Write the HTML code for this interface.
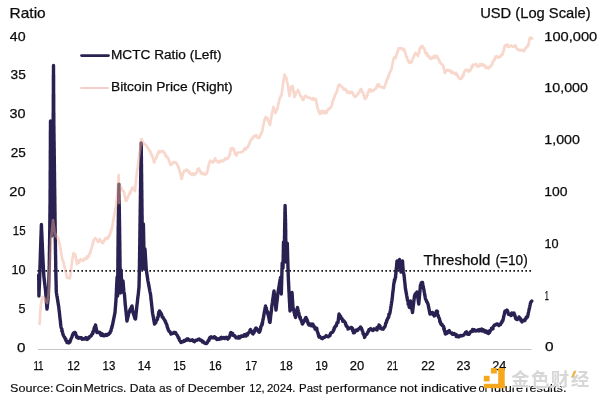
<!DOCTYPE html>
<html><head><meta charset="utf-8"><title>MCTC Ratio</title>
<style>
html,body{margin:0;padding:0;background:#fff;}
body{width:600px;height:400px;overflow:hidden;position:relative;}
svg{position:absolute;left:0;top:0;display:block;}
text{font-family:"Liberation Sans","Noto Sans CJK SC",sans-serif;fill:#0c0c0c;stroke:#0c0c0c;stroke-width:0.25px;}
.wm{font-family:"Liberation Sans","Noto Sans CJK SC",sans-serif;font-weight:bold;}
</style></head><body>
<svg width="600" height="400" viewBox="0 0 600 400">
<rect width="600" height="400" fill="#fff"/>
<line x1="38" y1="349.5" x2="531.5" y2="349.5" stroke="#c6c6c6" stroke-width="1.1"/>
<line x1="37.4" y1="270.9" x2="531.5" y2="270.9" stroke="#111" stroke-width="1.8" stroke-dasharray="1.6 2.4"/>
<polyline fill="none" stroke="#292151" stroke-width="3.4" stroke-linejoin="round" stroke-linecap="round" points="38.7,275.0 38.7,275.8 38.7,276.6 38.7,277.4 38.7,278.2 38.7,279.0 38.7,279.8 38.8,280.7 38.8,281.5 38.8,282.3 38.8,283.1 38.8,283.9 38.8,284.7 38.8,285.5 38.8,286.3 38.8,287.1 38.8,287.9 38.8,288.7 38.8,289.5 38.8,290.3 38.9,291.2 38.9,292.0 38.9,292.8 38.9,293.6 38.9,294.4 38.9,295.2 38.9,296.0 38.9,295.2 39.0,294.4 39.0,293.6 39.0,292.8 39.1,292.0 39.1,291.2 39.1,290.4 39.2,289.6 39.2,288.8 39.2,288.0 39.3,287.2 39.3,286.4 39.4,285.6 39.4,284.8 39.4,284.0 39.5,283.2 39.5,282.4 39.5,281.6 39.6,280.8 39.6,280.0 39.6,279.2 39.6,278.4 39.7,277.6 39.7,276.8 39.7,275.9 39.7,275.1 39.8,274.3 39.8,273.5 39.8,272.7 39.8,271.9 39.9,271.1 39.9,270.3 39.9,269.5 39.9,268.6 40.0,267.8 40.0,267.0 40.0,266.2 40.0,265.4 40.1,264.6 40.1,263.8 40.1,263.0 40.1,262.2 40.2,261.4 40.2,260.5 40.2,259.7 40.2,258.9 40.3,258.1 40.3,257.3 40.3,256.5 40.3,255.7 40.4,254.9 40.4,254.1 40.4,253.2 40.4,252.4 40.5,251.6 40.5,250.8 40.5,250.0 40.5,249.2 40.6,248.4 40.6,247.5 40.6,246.7 40.6,245.9 40.7,245.1 40.7,244.2 40.7,243.4 40.8,242.6 40.8,241.8 40.8,241.0 40.8,240.1 40.9,239.3 40.9,238.5 40.9,237.7 41.0,236.8 41.0,236.0 41.0,235.2 41.1,234.4 41.1,233.5 41.1,232.7 41.1,231.9 41.2,231.1 41.2,230.3 41.2,229.4 41.3,228.6 41.3,227.8 41.3,227.0 41.3,226.1 41.4,225.3 41.4,224.5 41.4,225.3 41.5,226.1 41.5,227.0 41.5,227.8 41.6,228.6 41.6,229.4 41.6,230.3 41.7,231.1 41.7,231.9 41.8,232.7 41.8,233.5 41.8,234.4 41.9,235.2 41.9,236.0 41.9,236.8 42.0,237.7 42.0,238.5 42.0,239.3 42.1,240.1 42.1,241.0 42.1,241.8 42.2,242.6 42.2,243.4 42.3,244.2 42.3,245.1 42.3,245.9 42.4,246.7 42.4,247.5 42.4,248.4 42.5,249.2 42.5,250.0 42.5,250.8 42.6,251.6 42.6,252.4 42.7,253.2 42.7,254.0 42.7,254.8 42.8,255.6 42.8,256.5 42.9,257.3 42.9,258.1 42.9,258.9 43.0,259.7 43.0,260.5 43.1,261.3 43.1,262.1 43.1,262.9 43.2,263.7 43.2,264.5 43.3,265.3 43.3,266.1 43.3,266.9 43.4,267.7 43.4,268.5 43.5,269.4 43.5,270.2 43.5,271.0 43.6,271.8 43.6,272.6 43.7,273.4 43.7,274.2 43.8,275.0 43.8,275.8 43.9,276.7 44.0,277.5 44.1,278.3 44.2,279.2 44.3,280.0 44.4,280.8 44.5,281.7 44.6,282.5 44.7,283.3 44.8,284.2 44.9,285.0 45.0,285.8 45.1,286.7 45.2,287.5 45.3,288.3 45.4,289.2 45.5,290.0 45.6,290.8 45.6,291.7 45.7,292.5 45.8,293.3 45.8,294.1 45.9,295.0 46.0,295.8 46.0,296.6 46.1,297.4 46.2,298.3 46.2,299.1 46.3,299.9 46.3,300.7 46.4,301.6 46.5,302.4 46.5,303.2 46.6,304.0 46.7,304.9 46.7,305.7 46.8,306.5 46.9,307.3 46.9,308.2 47.0,309.0 47.1,308.2 47.2,307.4 47.3,306.6 47.3,305.8 47.4,305.0 47.5,304.2 47.6,303.4 47.7,302.6 47.8,301.8 47.9,301.0 48.0,300.2 48.0,299.4 48.1,298.6 48.2,297.8 48.3,297.0 48.3,296.2 48.4,295.4 48.4,294.5 48.4,293.7 48.4,292.9 48.5,292.1 48.5,291.3 48.5,290.5 48.5,289.6 48.6,288.8 48.6,288.0 48.6,287.2 48.7,286.4 48.7,285.5 48.7,284.7 48.7,283.9 48.8,283.1 48.8,282.3 48.8,281.5 48.8,280.6 48.9,279.8 48.9,279.0 48.9,278.2 49.0,277.4 49.0,276.5 49.0,275.7 49.0,274.9 49.1,274.1 49.1,273.3 49.1,272.5 49.1,271.6 49.2,270.8 49.2,270.0 49.2,269.2 49.2,268.4 49.2,267.6 49.2,266.7 49.3,265.9 49.3,265.1 49.3,264.3 49.3,263.5 49.3,262.7 49.3,261.9 49.3,261.0 49.3,260.2 49.4,259.4 49.4,258.6 49.4,257.8 49.4,257.0 49.4,256.2 49.4,255.3 49.4,254.5 49.4,253.7 49.4,252.9 49.5,252.1 49.5,251.3 49.5,250.5 49.5,249.7 49.5,248.8 49.5,248.0 49.5,247.2 49.5,246.4 49.5,245.6 49.6,244.8 49.6,244.0 49.6,243.1 49.6,242.3 49.6,241.5 49.6,240.7 49.6,239.9 49.6,239.1 49.7,238.3 49.7,237.4 49.7,236.6 49.7,235.8 49.7,235.0 49.7,234.2 49.7,233.4 49.7,232.6 49.7,231.7 49.7,230.9 49.8,230.1 49.8,229.3 49.8,228.5 49.8,227.7 49.8,226.9 49.8,226.0 49.8,225.2 49.8,224.4 49.8,223.6 49.8,222.8 49.8,222.0 49.9,221.2 49.9,220.3 49.9,219.5 49.9,218.7 49.9,217.9 49.9,217.1 49.9,216.3 49.9,215.5 49.9,214.7 49.9,213.8 50.0,213.0 50.0,212.2 50.0,211.4 50.0,210.6 50.0,209.8 50.0,209.0 50.0,208.1 50.0,207.3 50.0,206.5 50.0,205.7 50.0,204.9 50.1,204.1 50.1,203.3 50.1,202.4 50.1,201.6 50.1,200.8 50.1,200.0 50.1,199.2 50.1,198.4 50.1,197.6 50.1,196.8 50.1,196.0 50.1,195.2 50.1,194.4 50.1,193.6 50.1,192.7 50.1,191.9 50.1,191.1 50.1,190.3 50.2,189.5 50.2,188.7 50.2,187.9 50.2,187.1 50.2,186.3 50.2,185.5 50.2,184.7 50.2,183.9 50.2,183.1 50.2,182.3 50.2,181.5 50.2,180.7 50.2,179.8 50.2,179.0 50.2,178.2 50.2,177.4 50.2,176.6 50.2,175.8 50.2,175.0 50.2,174.2 50.2,173.4 50.2,172.6 50.2,171.8 50.2,171.0 50.3,170.2 50.3,169.4 50.3,168.6 50.3,167.8 50.3,166.9 50.3,166.1 50.3,165.3 50.3,164.5 50.3,163.7 50.3,162.9 50.3,162.1 50.3,161.3 50.3,160.5 50.3,159.7 50.3,158.9 50.3,158.1 50.3,157.3 50.3,156.5 50.3,155.7 50.3,154.9 50.3,154.1 50.3,153.2 50.3,152.4 50.3,151.6 50.3,150.8 50.4,150.0 50.4,149.2 50.4,148.4 50.4,147.6 50.4,146.8 50.4,146.0 50.4,145.2 50.4,144.4 50.4,143.6 50.4,142.8 50.4,142.0 50.4,141.2 50.4,140.3 50.4,139.5 50.4,138.7 50.4,137.9 50.4,137.1 50.4,136.3 50.4,135.5 50.4,134.7 50.4,133.9 50.4,133.1 50.4,132.3 50.4,131.5 50.5,130.7 50.5,129.9 50.5,129.1 50.5,128.3 50.5,127.4 50.5,126.6 50.5,125.8 50.5,125.0 50.5,124.2 50.5,123.4 50.5,122.6 50.5,121.8 50.5,121.0 50.5,121.8 50.5,122.6 50.5,123.4 50.5,124.2 50.5,125.0 50.5,125.8 50.5,126.7 50.6,127.5 50.6,128.3 50.6,129.1 50.6,129.9 50.6,130.7 50.6,131.5 50.6,132.3 50.6,133.1 50.6,133.9 50.6,134.7 50.6,135.5 50.6,136.4 50.6,137.2 50.6,138.0 50.7,138.8 50.7,139.6 50.7,140.4 50.7,141.2 50.7,142.0 50.7,142.8 50.7,143.6 50.7,144.4 50.7,145.2 50.7,146.1 50.7,146.9 50.7,147.7 50.7,148.5 50.7,149.3 50.7,150.1 50.8,150.9 50.8,151.7 50.8,152.5 50.8,153.3 50.8,154.1 50.8,154.9 50.8,155.8 50.8,156.6 50.8,157.4 50.8,158.2 50.8,159.0 50.8,159.8 50.8,160.6 50.8,161.4 50.8,162.2 50.9,163.0 50.9,163.8 50.9,164.6 50.9,165.5 50.9,166.3 50.9,167.1 50.9,167.9 50.9,168.7 50.9,169.5 50.9,170.3 50.9,171.1 50.9,171.9 50.9,172.7 50.9,173.5 51.0,174.3 51.0,175.2 51.0,176.0 51.0,176.8 51.0,177.6 51.0,178.4 51.0,179.2 51.0,180.0 51.0,180.8 51.0,181.6 51.0,182.4 51.0,183.2 51.0,184.0 51.1,184.8 51.1,185.6 51.1,186.4 51.1,187.2 51.1,188.0 51.1,188.8 51.1,189.6 51.1,190.4 51.1,191.2 51.1,192.0 51.2,192.8 51.2,193.6 51.2,194.4 51.2,195.2 51.2,196.0 51.2,196.8 51.2,197.6 51.2,198.4 51.2,199.2 51.2,200.0 51.3,200.8 51.3,201.6 51.3,202.4 51.3,203.2 51.3,204.0 51.3,204.8 51.3,205.6 51.3,206.4 51.3,207.2 51.4,208.0 51.4,208.8 51.4,209.6 51.4,210.4 51.4,211.2 51.4,212.0 51.4,212.8 51.4,213.6 51.4,214.4 51.4,215.2 51.5,216.0 51.5,216.8 51.5,217.6 51.5,218.4 51.5,219.2 51.5,220.0 51.5,220.8 51.5,221.6 51.5,222.4 51.5,223.2 51.6,224.0 51.6,224.8 51.6,225.6 51.6,226.4 51.6,227.2 51.6,228.0 51.6,228.8 51.6,229.6 51.6,230.4 51.6,231.2 51.7,232.0 51.7,232.8 51.7,233.6 51.7,234.4 51.7,235.2 51.7,236.0 51.7,235.2 51.7,234.4 51.7,233.6 51.7,232.8 51.8,232.0 51.8,231.2 51.8,230.4 51.8,229.6 51.8,228.8 51.8,228.0 51.8,227.2 51.8,226.4 51.8,225.6 51.8,224.8 51.9,224.0 51.9,223.2 51.9,222.4 51.9,221.6 51.9,220.8 51.9,220.0 51.9,219.2 51.9,218.4 51.9,217.6 51.9,216.8 52.0,216.0 52.0,215.2 52.0,214.4 52.0,213.6 52.0,212.8 52.0,212.0 52.0,211.2 52.0,210.4 52.0,209.6 52.0,208.8 52.0,208.0 52.1,207.2 52.1,206.4 52.1,205.6 52.1,204.8 52.1,204.0 52.1,203.2 52.1,202.4 52.1,201.6 52.1,200.8 52.1,200.0 52.2,199.2 52.2,198.4 52.2,197.6 52.2,196.8 52.2,196.0 52.2,195.2 52.2,194.4 52.2,193.6 52.2,192.8 52.2,192.0 52.3,191.2 52.3,190.4 52.3,189.6 52.3,188.8 52.3,188.0 52.3,187.2 52.3,186.4 52.3,185.6 52.3,184.8 52.4,184.0 52.4,183.2 52.4,182.4 52.4,181.6 52.4,180.8 52.4,180.0 52.4,179.2 52.4,178.4 52.4,177.6 52.4,176.8 52.5,176.0 52.5,175.2 52.5,174.4 52.5,173.6 52.5,172.8 52.5,171.9 52.5,171.1 52.5,170.3 52.5,169.5 52.6,168.7 52.6,167.9 52.6,167.1 52.6,166.3 52.6,165.5 52.6,164.7 52.6,163.9 52.6,163.1 52.6,162.3 52.7,161.5 52.7,160.7 52.7,159.9 52.7,159.1 52.7,158.2 52.7,157.4 52.7,156.6 52.7,155.8 52.7,155.0 52.8,154.2 52.8,153.4 52.8,152.6 52.8,151.8 52.8,151.0 52.8,150.2 52.8,149.4 52.8,148.6 52.8,147.8 52.9,147.0 52.9,146.2 52.9,145.4 52.9,144.6 52.9,143.8 52.9,142.9 52.9,142.1 52.9,141.3 52.9,140.5 53.0,139.7 53.0,138.9 53.0,138.1 53.0,137.3 53.0,136.5 53.0,135.7 53.0,134.9 53.0,134.1 53.0,133.3 53.1,132.5 53.1,131.7 53.1,130.9 53.1,130.1 53.1,129.2 53.1,128.4 53.1,127.6 53.1,126.8 53.1,126.0 53.2,125.2 53.2,124.4 53.2,123.6 53.2,122.8 53.2,122.0 53.2,121.2 53.2,120.4 53.2,119.6 53.2,118.8 53.2,118.0 53.2,117.2 53.2,116.3 53.2,115.5 53.2,114.7 53.2,113.9 53.2,113.1 53.3,112.3 53.3,111.5 53.3,110.7 53.3,109.9 53.3,109.1 53.3,108.3 53.3,107.5 53.3,106.7 53.3,105.9 53.3,105.0 53.3,104.2 53.3,103.4 53.3,102.6 53.3,101.8 53.3,101.0 53.3,100.2 53.3,99.4 53.3,98.6 53.3,97.8 53.3,97.0 53.3,96.2 53.3,95.4 53.3,94.6 53.4,93.8 53.4,92.9 53.4,92.1 53.4,91.3 53.4,90.5 53.4,89.7 53.4,88.9 53.4,88.1 53.4,87.3 53.4,86.5 53.4,85.7 53.4,84.9 53.4,84.1 53.4,83.3 53.4,82.5 53.4,81.6 53.4,80.8 53.4,80.0 53.4,79.2 53.4,78.4 53.4,77.6 53.4,76.8 53.4,76.0 53.4,75.2 53.5,74.4 53.5,73.6 53.5,72.8 53.5,72.0 53.5,71.2 53.5,70.3 53.5,69.5 53.5,68.7 53.5,67.9 53.5,67.1 53.5,66.3 53.5,65.5 53.5,66.3 53.5,67.1 53.5,67.9 53.5,68.7 53.5,69.5 53.5,70.3 53.5,71.2 53.5,72.0 53.5,72.8 53.5,73.6 53.5,74.4 53.6,75.2 53.6,76.0 53.6,76.8 53.6,77.6 53.6,78.4 53.6,79.2 53.6,80.0 53.6,80.8 53.6,81.6 53.6,82.5 53.6,83.3 53.6,84.1 53.6,84.9 53.6,85.7 53.6,86.5 53.6,87.3 53.6,88.1 53.6,88.9 53.6,89.7 53.6,90.5 53.6,91.3 53.6,92.1 53.6,92.9 53.6,93.8 53.7,94.6 53.7,95.4 53.7,96.2 53.7,97.0 53.7,97.8 53.7,98.6 53.7,99.4 53.7,100.2 53.7,101.0 53.7,101.8 53.7,102.6 53.7,103.4 53.7,104.2 53.7,105.0 53.7,105.9 53.7,106.7 53.7,107.5 53.7,108.3 53.7,109.1 53.7,109.9 53.7,110.7 53.7,111.5 53.7,112.3 53.8,113.1 53.8,113.9 53.8,114.7 53.8,115.5 53.8,116.3 53.8,117.2 53.8,118.0 53.8,118.8 53.8,119.6 53.8,120.4 53.8,121.2 53.8,122.0 53.8,122.8 53.8,123.6 53.8,124.4 53.8,125.2 53.9,126.0 53.9,126.9 53.9,127.7 53.9,128.5 53.9,129.3 53.9,130.1 53.9,130.9 53.9,131.7 53.9,132.5 53.9,133.3 54.0,134.1 54.0,134.9 54.0,135.7 54.0,136.6 54.0,137.4 54.0,138.2 54.0,139.0 54.0,139.8 54.0,140.6 54.1,141.4 54.1,142.2 54.1,143.0 54.1,143.8 54.1,144.6 54.1,145.4 54.1,146.3 54.1,147.1 54.1,147.9 54.2,148.7 54.2,149.5 54.2,150.3 54.2,151.1 54.2,151.9 54.2,152.7 54.2,153.5 54.2,154.3 54.2,155.1 54.2,156.0 54.3,156.8 54.3,157.6 54.3,158.4 54.3,159.2 54.3,160.0 54.3,160.8 54.3,161.6 54.3,162.4 54.3,163.2 54.3,164.0 54.4,164.8 54.4,165.6 54.4,166.4 54.4,167.2 54.4,168.0 54.4,168.8 54.4,169.6 54.4,170.4 54.4,171.2 54.4,172.0 54.5,172.8 54.5,173.6 54.5,174.4 54.5,175.2 54.5,176.0 54.5,176.8 54.5,177.6 54.5,178.4 54.5,179.2 54.5,180.0 54.6,180.8 54.6,181.6 54.6,182.4 54.6,183.2 54.6,184.0 54.6,184.8 54.6,185.6 54.6,186.4 54.6,187.2 54.6,188.0 54.7,188.8 54.7,189.6 54.7,190.4 54.7,191.2 54.7,192.0 54.7,192.8 54.7,193.6 54.7,194.4 54.7,195.2 54.8,196.0 54.8,196.8 54.8,197.6 54.8,198.4 54.8,199.2 54.8,200.0 54.8,200.8 54.8,201.6 54.8,202.4 54.8,203.2 54.8,204.0 54.9,204.8 54.9,205.6 54.9,206.4 54.9,207.2 54.9,208.0 54.9,208.8 54.9,209.6 54.9,210.4 54.9,211.2 54.9,212.0 55.0,212.8 55.0,213.6 55.0,214.4 55.0,215.2 55.0,216.0 55.0,216.8 55.0,217.6 55.0,218.4 55.0,219.2 55.0,220.0 55.1,220.8 55.1,221.6 55.1,222.4 55.1,223.2 55.1,224.0 55.1,224.8 55.1,225.6 55.1,226.4 55.1,227.2 55.1,228.0 55.2,228.8 55.2,229.6 55.2,230.4 55.2,231.2 55.2,232.0 55.2,232.8 55.2,233.6 55.2,234.4 55.2,235.2 55.2,236.0 55.3,236.8 55.3,237.6 55.3,238.4 55.3,239.2 55.3,240.0 55.3,240.8 55.3,241.6 55.3,242.4 55.4,243.2 55.4,244.1 55.4,244.9 55.4,245.7 55.4,246.5 55.4,247.3 55.4,248.1 55.4,248.9 55.5,249.7 55.5,250.5 55.5,251.4 55.5,252.2 55.5,253.0 55.5,253.8 55.5,254.6 55.6,255.4 55.6,256.2 55.6,257.0 55.6,257.8 55.6,258.6 55.6,259.5 55.6,260.3 55.7,261.1 55.7,261.9 55.7,262.7 55.7,263.5 55.7,264.3 55.7,265.1 55.7,265.9 55.7,266.8 55.8,267.6 55.8,268.4 55.8,269.2 55.8,270.0 55.8,270.8 55.8,271.6 55.9,272.4 55.9,273.3 55.9,274.1 55.9,274.9 55.9,275.7 55.9,276.5 56.0,277.3 56.0,278.1 56.0,279.0 56.0,279.8 56.0,280.6 56.1,281.4 56.1,282.2 56.1,283.0 56.1,283.9 56.1,284.7 56.2,285.5 56.2,286.3 56.2,287.1 56.2,287.9 56.2,288.7 56.2,289.6 56.3,290.4 56.3,291.2 56.3,292.0 56.4,292.8 56.6,293.7 56.7,294.5 56.8,295.3 57.0,296.2 57.1,297.0 57.3,297.8 57.4,298.7 57.5,299.5 57.7,300.3 57.8,301.2 57.9,302.0 58.1,302.8 58.2,303.7 58.3,304.5 58.5,305.3 58.6,306.2 58.8,307.0 58.8,307.8 58.9,308.6 59.0,309.4 59.1,310.2 59.2,311.0 59.3,311.8 59.4,312.6 59.5,313.4 59.6,314.2 59.6,315.0 59.7,315.8 59.8,316.6 59.9,317.4 60.0,318.2 60.1,319.0 60.2,319.8 60.3,320.6 60.4,321.4 60.5,322.2 60.5,323.0 60.6,323.8 60.7,324.6 60.8,325.4 60.9,326.2 61.0,327.0 61.2,327.9 61.4,328.2 62.0,329.3 61.8,330.9 62.3,331.3 62.4,331.5 62.7,333.1 62.9,334.0 63.1,334.8 63.3,335.1 63.8,336.0 63.9,336.3 64.5,337.3 64.9,337.8 65.1,338.7 65.8,339.1 65.9,340.7 66.3,340.8 66.9,341.3 67.0,342.5 67.6,341.3 68.9,342.9 70.0,342.0 70.2,341.0 70.7,339.9 70.7,339.8 71.0,338.8 71.3,338.1 72.0,337.1 72.0,336.5 72.5,335.1 72.6,334.7 73.0,334.0 73.7,332.9 74.5,332.4 75.0,332.5 75.6,333.2 75.5,333.7 75.8,334.7 76.5,335.7 76.6,337.2 77.0,337.5 78.5,338.3 78.7,337.4 80.0,338.0 80.8,337.6 81.4,337.7 82.1,339.2 83.3,338.7 84.0,339.0 84.8,339.1 85.9,337.6 86.9,338.4 87.2,339.4 88.4,337.8 89.0,338.0 89.1,337.2 90.1,336.4 90.3,336.2 91.1,336.0 91.9,334.2 92.5,334.0 93.0,333.1 92.8,332.1 93.1,331.5 93.8,331.3 94.0,329.5 94.0,328.7 94.3,328.5 94.4,327.4 94.9,326.8 95.4,325.7 95.5,325.0 95.7,325.8 95.8,326.7 96.0,327.5 96.2,328.3 96.3,329.2 96.5,330.0 96.7,330.8 96.8,331.7 97.0,332.5 97.8,331.8 99.0,332.7 100.0,332.5 100.2,333.5 101.0,335.2 102.3,333.9 102.5,335.5 103.6,334.9 103.8,335.9 105.6,335.4 106.0,334.5 106.9,335.4 107.7,334.3 108.6,334.5 109.6,332.8 110.0,333.0 110.1,332.3 110.6,331.2 111.0,331.0 111.1,329.8 111.4,328.6 111.7,327.7 112.0,327.6 111.9,326.2 112.3,325.8 112.5,325.0 112.7,324.2 112.8,323.3 113.0,322.5 113.2,321.7 113.3,320.8 113.5,320.0 113.7,319.2 113.8,318.3 114.0,317.5 114.2,316.7 114.3,315.8 114.5,315.0 114.7,314.2 114.8,313.3 115.0,312.5 115.1,311.7 115.1,310.8 115.2,310.0 115.3,309.2 115.3,308.3 115.4,307.5 115.5,306.7 115.5,305.8 115.6,305.0 115.7,304.2 115.7,303.3 115.8,302.5 115.9,301.7 115.9,300.8 116.0,300.0 116.0,299.2 116.1,298.4 116.1,297.5 116.2,296.7 116.2,295.9 116.2,295.1 116.3,294.2 116.3,293.4 116.4,292.6 116.4,291.8 116.4,291.0 116.5,290.1 116.5,289.3 116.5,288.5 116.6,287.7 116.6,286.9 116.7,286.0 116.7,285.2 116.7,284.4 116.8,283.6 116.8,282.8 116.9,281.9 116.9,281.1 116.9,280.3 117.0,279.5 117.0,278.6 117.1,277.8 117.1,277.0 117.1,277.8 117.1,278.7 117.2,279.5 117.2,280.3 117.2,281.1 117.2,282.0 117.3,282.8 117.3,283.6 117.3,284.4 117.3,285.3 117.3,286.1 117.4,286.9 117.4,287.7 117.4,288.6 117.4,289.4 117.4,290.2 117.5,291.0 117.5,291.9 117.5,292.7 117.5,293.5 117.6,294.3 117.6,295.2 117.6,296.0 117.6,295.2 117.6,294.4 117.6,293.6 117.6,292.8 117.6,292.0 117.6,291.2 117.7,290.4 117.7,289.6 117.7,288.8 117.7,288.0 117.7,287.1 117.7,286.3 117.7,285.5 117.7,284.7 117.7,283.9 117.7,283.1 117.7,282.3 117.7,281.5 117.7,280.7 117.7,279.9 117.8,279.1 117.8,278.3 117.8,277.5 117.8,276.7 117.8,275.9 117.8,275.1 117.8,274.3 117.8,273.5 117.8,272.7 117.8,271.9 117.8,271.0 117.8,270.2 117.8,269.4 117.8,268.6 117.9,267.8 117.9,267.0 117.9,266.2 117.9,265.4 117.9,264.6 117.9,263.8 117.9,263.0 117.9,262.2 117.9,261.4 117.9,260.6 117.9,259.8 117.9,259.0 117.9,258.2 118.0,257.4 118.0,256.6 118.0,255.8 118.0,255.0 118.0,254.1 118.0,253.3 118.0,252.5 118.0,251.7 118.0,250.9 118.0,250.1 118.0,249.3 118.0,248.5 118.0,247.7 118.0,246.9 118.1,246.1 118.1,245.3 118.1,244.5 118.1,243.7 118.1,242.9 118.1,242.1 118.1,241.3 118.1,240.5 118.1,239.7 118.1,238.9 118.1,238.0 118.1,237.2 118.1,236.4 118.1,235.6 118.2,234.8 118.2,234.0 118.2,233.2 118.2,232.4 118.2,231.6 118.2,230.8 118.2,230.0 118.2,229.2 118.2,228.4 118.2,227.6 118.2,226.8 118.3,226.0 118.3,225.2 118.3,224.4 118.3,223.6 118.3,222.8 118.3,222.0 118.3,221.2 118.3,220.4 118.4,219.6 118.4,218.8 118.4,218.0 118.4,217.2 118.4,216.4 118.4,215.6 118.4,214.8 118.4,214.0 118.5,213.2 118.5,212.4 118.5,211.6 118.5,210.8 118.5,210.0 118.5,209.2 118.5,208.4 118.5,207.6 118.6,206.7 118.6,205.9 118.6,205.1 118.6,204.3 118.6,203.5 118.6,202.7 118.6,201.9 118.6,201.1 118.7,200.3 118.7,199.5 118.7,198.7 118.7,197.9 118.7,197.1 118.7,196.3 118.7,195.5 118.7,194.7 118.8,193.9 118.8,193.1 118.8,192.3 118.8,191.5 118.8,190.7 118.8,189.9 118.8,189.1 118.8,188.3 118.9,187.5 118.9,186.7 118.9,185.9 118.9,185.1 118.9,184.3 118.9,185.1 118.9,185.9 118.9,186.7 118.9,187.5 119.0,188.3 119.0,189.1 119.0,189.9 119.0,190.7 119.0,191.5 119.0,192.3 119.0,193.1 119.0,193.9 119.1,194.7 119.1,195.5 119.1,196.3 119.1,197.1 119.1,197.9 119.1,198.7 119.1,199.5 119.1,200.3 119.2,201.1 119.2,201.9 119.2,202.7 119.2,203.5 119.2,204.3 119.2,205.1 119.2,205.9 119.2,206.7 119.3,207.6 119.3,208.4 119.3,209.2 119.3,210.0 119.3,210.8 119.3,211.6 119.3,212.4 119.3,213.2 119.4,214.0 119.4,214.8 119.4,215.6 119.4,216.4 119.4,217.2 119.4,218.0 119.4,218.8 119.4,219.6 119.5,220.4 119.5,221.2 119.5,222.0 119.5,222.8 119.5,223.6 119.5,224.4 119.5,225.2 119.5,226.0 119.6,226.8 119.6,227.6 119.6,228.4 119.6,229.2 119.6,230.0 119.6,230.8 119.6,231.6 119.6,232.4 119.6,233.2 119.6,234.0 119.7,234.8 119.7,235.6 119.7,236.4 119.7,237.2 119.7,238.0 119.7,238.8 119.7,239.6 119.7,240.4 119.7,241.2 119.8,242.0 119.8,242.8 119.8,243.6 119.8,244.4 119.8,245.2 119.8,246.0 119.8,246.8 119.8,247.6 119.8,248.4 119.8,249.2 119.8,250.0 119.9,250.8 119.9,251.6 119.9,252.4 119.9,253.2 119.9,254.0 119.9,254.8 119.9,255.6 119.9,256.4 119.9,257.2 120.0,258.0 120.0,258.8 120.0,259.6 120.0,260.4 120.0,261.2 120.0,262.0 120.0,262.8 120.0,263.6 120.0,264.4 120.0,265.3 120.0,266.1 120.0,266.9 120.1,267.7 120.1,268.5 120.1,269.3 120.1,270.2 120.1,271.0 120.1,271.8 120.1,272.6 120.1,273.4 120.1,274.2 120.1,275.1 120.1,275.9 120.1,276.7 120.2,277.5 120.2,278.3 120.2,279.1 120.2,279.9 120.2,280.8 120.2,281.6 120.2,282.4 120.2,283.2 120.2,284.0 120.2,284.8 120.2,285.7 120.2,286.5 120.2,287.3 120.3,288.1 120.3,288.9 120.3,289.7 120.3,290.6 120.3,291.4 120.3,292.2 120.3,293.0 120.3,292.2 120.4,291.4 120.4,290.5 120.4,289.7 120.4,288.9 120.5,288.1 120.5,287.2 120.5,286.4 120.6,285.6 120.6,284.8 120.6,284.0 120.6,283.1 120.7,282.3 120.7,281.5 120.7,280.7 120.8,279.9 120.8,279.0 120.8,278.2 120.8,277.4 120.9,276.6 120.9,275.8 120.9,274.9 121.0,274.1 121.0,273.3 121.0,272.5 121.0,271.6 121.1,270.8 121.1,270.0 121.1,270.8 121.2,271.6 121.2,272.4 121.2,273.3 121.3,274.1 121.3,274.9 121.3,275.7 121.4,276.5 121.4,277.3 121.4,278.1 121.5,279.0 121.5,279.8 121.5,280.6 121.6,281.4 121.6,282.2 121.6,283.0 121.7,283.9 121.7,284.7 121.7,285.5 121.8,286.3 121.8,287.1 121.8,287.9 121.9,288.7 121.9,289.6 121.9,290.4 122.0,291.2 122.0,292.0 122.1,291.2 122.2,290.3 122.2,289.5 122.3,288.6 122.4,287.8 122.5,286.9 122.5,286.1 122.6,285.2 122.7,284.4 122.8,283.5 122.8,282.7 122.9,281.8 123.0,281.0 123.1,281.8 123.1,282.7 123.2,283.5 123.3,284.3 123.3,285.2 123.4,286.0 123.5,286.8 123.5,287.7 123.6,288.5 123.7,289.3 123.7,290.2 123.8,291.0 123.9,291.8 124.1,292.6 124.2,293.4 124.4,294.2 124.5,295.0 124.6,295.8 124.6,296.7 124.7,297.5 124.8,298.3 124.8,299.2 124.9,300.0 125.0,300.8 125.0,301.7 125.1,302.5 125.2,303.3 125.2,304.2 125.3,305.0 125.4,305.8 125.5,306.6 125.6,307.4 125.6,308.2 125.7,309.0 125.8,309.8 125.9,310.6 126.0,311.4 126.1,312.2 126.2,313.0 126.2,313.8 126.3,314.6 126.4,315.4 126.5,316.2 126.6,317.0 126.7,317.8 126.7,318.6 126.8,319.4 126.9,320.2 127.0,321.0 127.2,320.1 127.4,319.3 127.6,318.4 127.8,317.6 128.0,316.8 128.2,315.9 128.4,315.1 128.6,314.2 128.8,313.4 129.0,312.5 129.6,311.8 129.5,310.9 129.8,310.6 130.3,309.0 130.9,308.2 131.5,308.1 131.5,306.7 132.0,306.0 132.1,306.8 132.2,307.6 132.4,308.4 132.5,309.2 132.6,310.1 132.8,310.9 132.9,311.7 133.0,312.5 133.2,313.3 133.8,314.4 133.7,314.8 134.4,315.2 134.3,317.0 134.5,316.8 135.0,318.7 135.5,319.0 135.6,318.2 135.7,317.4 135.8,316.5 135.9,315.7 135.9,314.9 136.0,314.1 136.1,313.2 136.2,312.4 136.3,311.6 136.4,310.8 136.5,309.9 136.6,309.1 136.6,308.3 136.7,307.5 136.8,306.6 136.9,305.8 137.0,305.0 137.1,304.2 137.2,303.4 137.3,302.6 137.4,301.8 137.5,301.0 137.5,300.2 137.6,299.4 137.7,298.6 137.8,297.8 137.9,297.0 138.0,296.2 138.1,295.5 138.2,294.7 138.3,293.9 138.4,293.1 138.5,292.3 138.5,291.5 138.6,290.7 138.7,289.9 138.8,289.1 138.9,288.3 139.0,287.5 139.0,286.7 139.0,285.8 139.1,285.0 139.1,284.2 139.1,283.3 139.1,282.5 139.1,281.7 139.2,280.8 139.2,280.0 139.2,279.2 139.2,278.3 139.2,277.5 139.2,276.7 139.3,275.8 139.3,275.0 139.3,274.2 139.3,273.3 139.3,272.5 139.4,271.7 139.4,270.8 139.4,270.0 139.4,269.2 139.4,268.4 139.4,267.6 139.4,266.8 139.5,266.0 139.5,265.2 139.5,264.4 139.5,263.5 139.5,262.7 139.5,261.9 139.5,261.1 139.5,260.3 139.5,259.5 139.6,258.7 139.6,257.9 139.6,257.1 139.6,256.3 139.6,255.5 139.6,254.7 139.6,253.9 139.6,253.1 139.6,252.3 139.7,251.5 139.7,250.6 139.7,249.8 139.7,249.0 139.7,248.2 139.7,247.4 139.7,246.6 139.7,245.8 139.8,245.0 139.8,244.2 139.8,243.4 139.8,242.6 139.8,241.8 139.8,241.0 139.8,240.2 139.8,239.4 139.8,238.5 139.9,237.7 139.9,236.9 139.9,236.1 139.9,235.3 139.9,234.5 139.9,233.7 139.9,232.9 139.9,232.1 139.9,231.3 140.0,230.5 140.0,229.7 140.0,228.9 140.0,228.1 140.0,227.3 140.0,226.5 140.0,225.6 140.0,224.8 140.0,224.0 140.1,223.2 140.1,222.4 140.1,221.6 140.1,220.8 140.1,220.0 140.1,219.2 140.1,218.4 140.1,217.6 140.1,216.8 140.2,216.0 140.2,215.2 140.2,214.4 140.2,213.6 140.2,212.8 140.2,212.0 140.2,211.2 140.2,210.4 140.2,209.6 140.3,208.8 140.3,208.0 140.3,207.2 140.3,206.4 140.3,205.6 140.3,204.8 140.3,204.0 140.3,203.2 140.4,202.4 140.4,201.6 140.4,200.8 140.4,199.9 140.4,199.1 140.4,198.3 140.4,197.5 140.4,196.7 140.4,195.9 140.5,195.1 140.5,194.3 140.5,193.5 140.5,192.7 140.5,191.9 140.5,191.1 140.5,190.3 140.5,189.5 140.5,188.7 140.6,187.9 140.6,187.1 140.6,186.3 140.6,185.5 140.6,184.7 140.6,183.9 140.6,183.1 140.6,182.3 140.6,181.5 140.7,180.7 140.7,179.9 140.7,179.1 140.7,178.3 140.7,177.5 140.7,176.7 140.7,175.9 140.7,175.1 140.8,174.3 140.8,173.5 140.8,172.7 140.8,171.9 140.8,171.1 140.8,170.3 140.8,169.5 140.8,168.7 140.8,167.9 140.9,167.1 140.9,166.3 140.9,165.5 140.9,164.7 140.9,163.9 140.9,163.1 140.9,162.2 140.9,161.4 140.9,160.6 141.0,159.8 141.0,159.0 141.0,158.2 141.0,157.4 141.0,156.6 141.0,155.8 141.0,155.0 141.0,154.2 141.1,153.4 141.1,152.6 141.1,151.8 141.1,151.0 141.1,150.2 141.1,149.4 141.1,148.6 141.1,147.8 141.1,147.0 141.2,146.2 141.2,145.4 141.2,144.6 141.2,143.8 141.2,143.0 141.2,143.8 141.2,144.6 141.2,145.4 141.2,146.2 141.2,147.0 141.3,147.8 141.3,148.6 141.3,149.4 141.3,150.2 141.3,151.0 141.3,151.8 141.3,152.6 141.3,153.4 141.3,154.2 141.3,155.0 141.3,155.8 141.4,156.6 141.4,157.4 141.4,158.2 141.4,159.0 141.4,159.8 141.4,160.6 141.4,161.4 141.4,162.2 141.4,163.1 141.4,163.9 141.5,164.7 141.5,165.5 141.5,166.3 141.5,167.1 141.5,167.9 141.5,168.7 141.5,169.5 141.5,170.3 141.5,171.1 141.5,171.9 141.5,172.7 141.6,173.5 141.6,174.3 141.6,175.1 141.6,175.9 141.6,176.7 141.6,177.5 141.6,178.3 141.6,179.1 141.6,179.9 141.6,180.7 141.6,181.5 141.7,182.3 141.7,183.1 141.7,183.9 141.7,184.7 141.7,185.5 141.7,186.3 141.7,187.1 141.7,187.9 141.7,188.7 141.7,189.5 141.8,190.3 141.8,191.1 141.8,191.9 141.8,192.7 141.8,193.5 141.8,194.3 141.8,195.1 141.8,195.9 141.8,196.7 141.8,197.5 141.8,198.3 141.9,199.1 141.9,199.9 141.9,200.8 141.9,201.6 141.9,202.4 141.9,203.2 141.9,204.0 141.9,204.8 141.9,205.6 141.9,206.4 141.9,207.2 142.0,208.0 142.0,208.8 142.0,209.6 142.0,210.4 142.0,211.2 142.0,212.0 142.0,212.8 142.0,213.6 142.0,214.4 142.0,215.2 142.1,216.0 142.1,216.8 142.1,217.6 142.1,218.4 142.1,219.2 142.1,220.0 142.1,220.8 142.1,221.6 142.1,222.4 142.1,223.2 142.1,224.0 142.2,224.8 142.2,225.6 142.2,226.4 142.2,227.2 142.2,228.0 142.2,228.8 142.2,229.6 142.2,230.4 142.2,231.2 142.2,232.0 142.3,232.9 142.3,233.7 142.3,234.5 142.3,235.3 142.3,236.1 142.3,236.9 142.3,237.7 142.3,238.5 142.3,239.3 142.3,240.1 142.4,240.9 142.4,241.7 142.4,242.5 142.4,243.3 142.4,244.1 142.4,244.9 142.4,245.7 142.4,246.5 142.4,247.3 142.4,248.1 142.5,248.9 142.5,249.7 142.5,250.5 142.5,251.3 142.5,252.1 142.5,252.9 142.5,253.7 142.5,254.5 142.5,255.3 142.5,256.1 142.6,257.0 142.6,257.8 142.6,258.6 142.6,259.4 142.6,260.2 142.6,261.0 142.6,261.8 142.6,262.6 142.6,263.4 142.6,264.2 142.7,265.0 142.7,265.8 142.7,266.6 142.7,267.4 142.7,268.2 142.7,269.0 142.7,268.2 142.7,267.4 142.7,266.6 142.8,265.8 142.8,265.0 142.8,264.2 142.8,263.4 142.8,262.6 142.8,261.8 142.8,261.0 142.8,260.2 142.8,259.4 142.9,258.6 142.9,257.8 142.9,256.9 142.9,256.1 142.9,255.3 142.9,254.5 142.9,253.7 142.9,252.9 143.0,252.1 143.0,251.3 143.0,250.5 143.0,249.7 143.0,248.9 143.0,248.1 143.0,247.3 143.1,246.5 143.1,245.7 143.1,244.9 143.1,244.1 143.1,243.3 143.1,242.5 143.1,241.7 143.1,240.9 143.2,240.1 143.2,239.3 143.2,238.5 143.2,237.7 143.2,236.9 143.2,236.1 143.2,235.2 143.2,234.4 143.2,233.6 143.3,232.8 143.3,232.0 143.3,231.2 143.3,230.4 143.3,229.6 143.3,228.8 143.3,228.0 143.3,227.2 143.4,226.4 143.4,225.6 143.4,224.8 143.4,224.0 143.4,224.8 143.4,225.6 143.4,226.4 143.5,227.2 143.5,228.0 143.5,228.8 143.5,229.6 143.5,230.4 143.5,231.2 143.6,232.0 143.6,232.8 143.6,233.6 143.6,234.4 143.6,235.2 143.6,236.1 143.7,236.9 143.7,237.7 143.7,238.5 143.7,239.3 143.7,240.1 143.7,240.9 143.8,241.7 143.8,242.5 143.8,243.3 143.8,244.1 143.8,244.9 143.8,245.7 143.9,246.5 143.9,247.3 143.9,248.1 143.9,248.9 143.9,249.7 143.9,250.5 143.9,251.3 144.0,252.1 144.0,252.9 144.0,253.7 144.0,254.5 144.0,255.3 144.0,256.1 144.1,256.9 144.1,257.8 144.1,258.6 144.1,259.4 144.1,260.2 144.1,261.0 144.2,261.8 144.2,262.6 144.2,263.4 144.2,264.2 144.2,265.0 144.2,265.8 144.3,266.6 144.3,267.4 144.3,268.2 144.3,269.0 144.3,268.2 144.4,267.4 144.4,266.6 144.4,265.8 144.4,265.0 144.5,264.2 144.5,263.4 144.5,262.6 144.6,261.8 144.6,261.0 144.6,260.2 144.6,259.4 144.7,258.6 144.7,257.8 144.7,257.0 144.7,256.2 144.8,255.4 144.8,254.6 144.8,253.8 144.9,253.0 144.9,252.2 144.9,251.4 144.9,250.6 145.0,249.8 145.0,249.0 145.0,249.8 145.1,250.6 145.1,251.4 145.2,252.2 145.2,253.0 145.3,253.8 145.3,254.6 145.4,255.4 145.4,256.2 145.5,257.0 145.5,257.8 145.6,258.6 145.6,259.4 145.7,260.2 145.7,261.0 145.8,261.8 145.8,262.6 145.9,263.4 145.9,264.2 146.0,265.0 146.0,265.8 146.1,266.6 146.1,267.4 146.2,268.2 146.2,269.0 146.3,269.8 146.4,270.7 146.6,271.5 146.7,272.4 146.8,273.2 146.9,274.1 147.1,274.9 147.2,275.8 147.3,276.6 147.4,277.5 147.6,278.3 147.7,279.2 147.8,280.0 147.9,280.8 148.1,281.6 148.2,282.4 148.4,283.2 148.5,283.9 148.7,284.7 148.8,285.5 149.0,286.3 149.1,287.1 149.3,287.9 149.4,288.7 149.6,289.5 149.7,290.3 149.9,291.1 150.0,291.8 150.2,292.6 150.3,293.4 150.5,294.2 150.6,295.0 150.7,295.8 150.8,296.6 150.9,297.4 150.9,298.2 151.0,299.0 151.1,299.8 151.2,300.6 151.3,301.4 151.4,302.2 151.5,303.0 151.6,303.8 151.6,304.5 151.7,305.3 151.8,306.1 151.9,306.9 152.0,307.7 152.1,308.5 152.2,309.3 152.2,310.1 152.3,310.9 152.4,311.7 152.5,312.5 152.6,313.3 152.8,314.1 152.9,315.0 153.1,315.8 153.2,316.6 153.4,317.4 153.5,318.2 153.6,319.1 153.8,319.9 153.9,320.7 154.1,321.5 154.2,322.4 154.4,323.2 154.5,324.0 155.2,322.6 155.8,322.8 155.8,321.7 156.4,320.8 157.0,320.0 157.5,319.1 157.5,317.7 157.4,317.5 157.9,317.4 158.2,316.5 158.4,315.7 158.5,313.6 159.0,313.7 158.8,312.2 159.3,312.4 159.5,311.0 160.0,311.7 160.4,312.4 160.7,313.0 161.3,313.6 161.6,314.6 162.0,316.0 162.2,317.1 163.1,317.4 163.6,318.4 163.7,319.0 163.8,319.0 164.7,320.1 165.0,321.0 165.6,321.5 165.5,322.2 166.2,323.5 166.1,323.6 166.6,324.3 167.0,325.3 167.3,327.1 167.3,327.5 167.8,328.1 168.0,329.0 168.4,330.2 168.7,330.5 169.0,331.2 170.0,331.7 170.3,332.4 170.5,333.2 171.0,334.0 172.2,333.3 172.1,333.5 173.5,333.4 174.2,332.3 175.0,332.5 175.7,332.6 175.7,333.1 176.0,333.9 177.2,335.1 177.5,336.0 177.9,336.4 178.2,337.7 178.9,337.8 179.2,339.4 179.5,340.1 179.7,340.7 180.0,340.7 180.4,341.2 181.0,342.5 182.0,341.7 182.4,342.0 183.0,341.8 184.0,340.5 184.4,341.2 185.9,339.8 186.7,340.2 187.0,339.0 188.2,338.9 188.4,339.3 189.2,340.2 190.0,340.5 191.2,340.2 191.7,340.2 192.4,339.8 193.4,341.1 194.3,341.7 195.0,341.0 195.8,340.2 197.1,340.2 197.1,340.1 198.4,339.3 199.0,339.5 199.4,339.1 200.5,340.2 201.4,340.2 201.9,340.7 202.5,342.0 203.1,341.4 204.4,342.9 205.1,343.3 206.4,343.6 207.0,343.0 207.5,342.2 207.8,341.8 208.2,340.4 209.0,340.3 209.2,339.4 209.3,338.6 210.0,337.5 210.9,336.9 211.4,337.7 212.8,337.8 212.7,337.3 214.0,337.0 214.5,336.8 214.9,338.0 215.9,337.8 216.8,339.5 217.5,339.0 218.1,339.0 219.3,339.2 220.4,337.9 221.2,337.4 221.6,338.7 222.5,338.0 223.7,337.6 224.3,338.5 224.5,338.6 226.1,337.2 226.4,337.8 227.8,339.1 227.9,337.8 229.0,338.0 229.1,336.7 229.4,336.9 230.1,335.3 230.2,335.0 230.4,334.5 230.5,333.0 231.0,332.5 231.2,334.1 232.7,333.5 232.6,335.1 234.0,335.7 234.8,335.8 235.0,336.0 235.6,337.2 235.9,337.8 236.7,337.4 237.5,338.0 238.7,336.5 239.0,338.1 239.9,337.9 241.1,336.0 241.7,336.0 242.5,336.0 243.5,336.3 244.2,334.7 245.4,334.7 246.0,336.1 246.6,334.1 247.5,335.0 248.0,333.7 248.2,333.1 248.6,332.7 249.4,331.8 249.9,330.5 250.0,330.1 250.5,329.5 250.9,330.5 251.2,330.9 251.7,331.6 251.9,332.8 252.3,333.2 253.0,334.0 253.2,333.2 253.9,332.9 254.3,331.9 254.4,330.4 254.7,330.7 255.2,329.3 255.5,328.5 256.0,328.0 256.2,328.1 257.1,329.2 257.2,329.0 257.8,330.6 259.1,332.3 259.5,332.0 259.7,331.3 260.2,330.5 260.3,329.2 260.6,329.1 260.6,328.3 260.8,326.7 261.1,326.5 261.4,325.3 262.0,325.1 261.9,323.5 262.4,323.9 262.5,322.5 262.6,321.7 262.8,320.9 262.9,320.0 263.1,319.2 263.2,318.4 263.4,317.6 263.6,316.7 263.7,315.9 263.9,315.1 264.0,314.2 264.1,313.4 264.3,312.6 264.4,311.8 264.6,310.9 264.8,310.1 264.9,309.3 265.1,308.5 265.2,307.6 265.4,306.8 265.5,306.0 265.5,306.3 265.9,308.3 266.3,308.1 266.5,309.2 266.4,310.5 267.0,311.6 267.3,311.3 267.5,312.5 268.0,312.7 267.7,313.6 267.9,314.5 268.6,315.3 268.5,316.1 268.6,316.9 268.9,318.0 269.3,319.9 269.2,320.0 269.7,321.5 269.5,321.9 270.0,322.5 270.1,321.7 270.2,320.9 270.3,320.1 270.4,319.3 270.5,318.5 270.5,317.7 270.6,316.9 270.7,316.1 270.8,315.3 270.9,314.5 271.0,313.8 271.1,313.0 271.2,312.2 271.3,311.4 271.4,310.6 271.5,309.8 271.5,309.0 271.6,308.2 271.7,307.4 271.8,306.6 271.9,305.8 272.0,305.0 272.1,304.2 272.2,303.4 272.4,302.5 272.5,301.7 272.6,300.9 272.7,300.1 272.8,299.2 272.9,298.4 273.1,297.6 273.2,296.8 273.3,295.9 273.4,295.1 273.5,294.3 273.6,293.5 273.8,292.6 273.9,291.8 274.0,291.0 274.1,291.8 274.2,292.7 274.3,293.5 274.3,294.3 274.4,295.1 274.5,296.0 274.6,296.8 274.7,297.6 274.8,298.4 274.9,299.3 275.0,300.1 275.0,300.9 275.1,301.7 275.2,302.6 275.3,303.4 275.4,304.2 275.5,305.0 275.6,305.9 275.7,306.7 275.7,307.5 275.8,308.3 275.9,309.2 276.0,310.0 276.1,309.2 276.2,308.4 276.3,307.6 276.4,306.8 276.5,306.0 276.5,305.2 276.6,304.4 276.7,303.6 276.8,302.8 276.9,302.0 277.0,301.2 277.1,300.5 277.2,299.7 277.3,298.9 277.4,298.1 277.5,297.3 277.5,296.5 277.6,295.7 277.7,294.9 277.8,294.1 277.9,293.3 278.0,292.5 278.1,291.7 278.3,290.9 278.4,290.1 278.5,289.3 278.7,288.6 278.8,287.8 278.9,287.0 279.1,286.2 279.2,285.4 279.3,284.6 279.4,283.8 279.6,283.0 279.7,282.2 279.8,281.4 280.0,280.7 280.1,279.9 280.2,279.1 280.4,278.3 280.5,277.5 280.5,278.3 280.6,279.1 280.6,280.0 280.7,280.8 280.7,281.6 280.7,282.4 280.8,283.3 280.8,284.1 280.9,284.9 280.9,285.8 280.9,286.6 281.0,287.4 281.0,288.2 281.1,289.1 281.1,289.9 281.1,290.7 281.2,291.5 281.2,292.4 281.3,293.2 281.3,294.0 281.3,293.2 281.3,292.4 281.4,291.6 281.4,290.7 281.4,289.9 281.4,289.1 281.5,288.3 281.5,287.5 281.5,286.7 281.5,285.8 281.6,285.0 281.6,284.2 281.6,283.4 281.6,282.6 281.7,281.8 281.7,280.9 281.7,280.1 281.7,279.3 281.8,278.5 281.8,277.7 281.8,276.9 281.8,276.1 281.8,275.2 281.9,274.4 281.9,273.6 281.9,272.8 281.9,272.0 282.0,271.2 282.0,270.3 282.0,269.5 282.0,268.7 282.1,267.9 282.1,267.1 282.1,266.3 282.1,265.4 282.2,264.6 282.2,263.8 282.2,263.0 282.3,263.8 282.5,264.7 282.6,265.5 282.7,266.3 282.9,267.2 283.0,268.0 283.0,267.2 283.0,266.4 283.0,265.6 283.1,264.8 283.1,263.9 283.1,263.1 283.1,262.3 283.1,261.5 283.1,260.7 283.2,259.9 283.2,259.1 283.2,258.2 283.2,257.4 283.2,256.6 283.2,255.8 283.2,255.0 283.3,254.2 283.3,253.4 283.3,252.6 283.3,251.8 283.3,250.9 283.3,250.1 283.4,249.3 283.4,248.5 283.4,247.7 283.4,246.9 283.4,246.1 283.4,245.2 283.5,244.4 283.5,243.6 283.5,242.8 283.5,242.0 283.5,242.8 283.6,243.6 283.6,244.4 283.6,245.2 283.6,246.0 283.7,246.8 283.7,247.6 283.7,248.4 283.8,249.2 283.8,250.0 283.8,250.8 283.8,251.6 283.9,252.4 283.9,253.2 283.9,254.0 283.9,254.8 284.0,255.6 284.0,256.4 284.0,257.2 284.1,258.0 284.1,258.8 284.1,259.6 284.1,260.4 284.2,261.2 284.2,262.0 284.2,261.2 284.2,260.4 284.2,259.6 284.2,258.8 284.3,258.0 284.3,257.2 284.3,256.4 284.3,255.6 284.3,254.8 284.3,254.0 284.3,253.2 284.3,252.3 284.3,251.5 284.4,250.7 284.4,249.9 284.4,249.1 284.4,248.3 284.4,247.5 284.4,246.7 284.4,245.9 284.4,245.1 284.4,244.3 284.4,243.5 284.5,242.7 284.5,241.9 284.5,241.1 284.5,240.3 284.5,239.5 284.5,238.7 284.5,237.9 284.5,237.1 284.5,236.3 284.6,235.5 284.6,234.7 284.6,233.8 284.6,233.0 284.6,232.2 284.6,231.4 284.6,230.6 284.6,229.8 284.6,229.0 284.7,228.2 284.7,227.4 284.7,226.6 284.7,225.8 284.7,225.0 284.7,224.2 284.7,223.4 284.8,222.6 284.8,221.8 284.8,220.9 284.8,220.1 284.8,219.3 284.8,218.5 284.9,217.7 284.9,216.9 284.9,216.1 284.9,215.2 284.9,214.4 284.9,213.6 284.9,212.8 285.0,212.0 285.0,211.2 285.0,210.4 285.0,209.6 285.0,208.8 285.1,207.9 285.1,207.1 285.1,206.3 285.1,205.5 285.1,206.3 285.1,207.1 285.2,207.9 285.2,208.8 285.2,209.6 285.2,210.4 285.2,211.2 285.3,212.0 285.3,212.8 285.3,213.6 285.3,214.4 285.4,215.2 285.4,216.1 285.4,216.9 285.4,217.7 285.4,218.5 285.5,219.3 285.5,220.1 285.5,220.9 285.5,221.8 285.5,222.6 285.6,223.4 285.6,224.2 285.6,225.0 285.6,225.8 285.6,226.6 285.6,227.4 285.6,228.2 285.6,229.0 285.7,229.8 285.7,230.6 285.7,231.4 285.7,232.2 285.7,233.0 285.7,233.8 285.7,234.7 285.7,235.5 285.7,236.3 285.7,237.1 285.7,237.9 285.7,238.7 285.8,239.5 285.8,240.3 285.8,241.1 285.8,241.9 285.8,242.7 285.8,243.5 285.8,244.3 285.8,245.1 285.8,245.9 285.8,246.7 285.8,247.5 285.9,248.3 285.9,249.1 285.9,249.9 285.9,250.7 285.9,251.5 285.9,252.3 285.9,253.2 285.9,254.0 285.9,254.8 285.9,255.6 285.9,256.4 285.9,257.2 286.0,258.0 286.0,258.8 286.0,259.6 286.0,260.4 286.0,261.2 286.0,262.0 286.0,261.2 286.1,260.3 286.1,259.5 286.1,258.7 286.1,257.9 286.2,257.0 286.2,256.2 286.2,255.4 286.2,254.6 286.3,253.7 286.3,252.9 286.3,252.1 286.3,251.3 286.4,250.4 286.4,249.6 286.4,248.8 286.4,248.0 286.5,247.1 286.5,246.3 286.5,245.5 286.5,244.7 286.6,243.8 286.6,243.0 287.3,243.5 287.3,244.3 287.3,245.1 287.4,245.9 287.4,246.7 287.4,247.5 287.4,248.3 287.5,249.1 287.5,249.9 287.5,250.7 287.5,251.5 287.5,252.3 287.6,253.2 287.6,254.0 287.6,254.8 287.6,255.6 287.6,256.4 287.7,257.2 287.7,258.0 287.7,258.8 287.7,259.6 287.8,260.4 287.8,261.2 287.8,262.0 287.8,262.8 287.9,263.7 287.9,264.5 287.9,265.3 287.9,266.2 288.0,267.0 288.0,267.8 288.0,268.7 288.1,269.5 288.1,270.3 288.1,271.2 288.1,272.0 288.2,272.8 288.2,273.7 288.2,274.5 288.2,275.3 288.3,276.2 288.3,277.0 288.3,277.8 288.4,278.6 288.4,279.4 288.4,280.2 288.5,281.1 288.5,281.9 288.6,282.7 288.6,283.5 288.6,284.3 288.7,285.1 288.7,285.9 288.8,286.8 288.8,287.6 288.8,288.4 288.9,289.2 288.9,290.0 288.9,290.8 289.0,291.6 289.0,292.4 289.1,293.2 289.1,294.0 289.2,294.8 289.2,295.7 289.2,296.5 289.3,297.3 289.3,298.1 289.4,298.9 289.4,299.7 289.4,300.5 289.5,301.3 289.5,302.1 289.6,302.9 289.6,303.7 289.7,304.5 289.7,305.3 289.7,306.2 289.8,307.0 289.8,307.8 289.9,308.6 289.9,309.4 290.0,310.2 290.0,311.0 290.1,310.2 290.2,309.4 290.3,308.6 290.3,307.8 290.4,307.0 290.5,306.2 290.6,305.4 290.7,304.6 290.8,303.8 290.9,303.0 291.0,302.2 291.0,301.3 291.1,300.5 291.2,299.7 291.3,298.9 291.4,298.1 291.5,297.3 291.6,296.5 291.7,295.7 291.7,294.9 291.8,294.1 291.9,293.3 292.0,292.5 292.1,293.3 292.1,294.2 292.2,295.0 292.2,295.8 292.3,296.7 292.3,297.5 292.4,298.3 292.4,299.2 292.5,300.0 292.6,300.8 292.6,301.7 292.7,302.5 292.7,303.3 292.8,304.2 292.8,305.0 292.9,305.8 292.9,306.7 293.0,307.5 293.5,309.1 293.2,309.9 293.7,309.8 294.0,310.1 294.3,312.2 294.0,312.1 294.8,314.0 294.7,314.9 294.6,314.9 295.3,315.2 295.2,316.1 295.5,317.5 295.7,316.7 295.8,315.8 296.0,315.0 296.2,314.2 296.3,313.3 296.5,312.5 296.7,311.7 296.8,310.8 297.0,310.0 297.2,309.2 297.3,308.3 297.5,307.5 297.7,308.4 297.9,309.2 298.1,310.1 298.3,310.9 298.5,311.8 298.7,312.6 298.9,313.4 299.1,314.3 299.3,315.1 299.5,316.0 299.7,317.5 300.3,317.2 300.3,319.0 300.4,318.7 301.1,319.8 301.4,320.7 301.6,321.8 302.0,321.9 302.3,323.9 302.5,324.0 303.2,322.7 303.3,322.1 304.0,321.5 304.3,321.0 304.7,319.8 304.9,319.8 305.2,318.6 305.8,317.6 306.0,317.5 306.5,318.8 306.8,319.2 306.8,319.7 307.0,320.2 307.5,320.6 307.5,322.2 308.4,323.0 308.1,323.0 308.4,324.4 309.0,325.0 310.3,324.4 311.0,324.0 311.2,325.7 312.8,324.1 313.7,326.6 314.0,326.0 314.3,326.8 314.4,326.9 315.2,329.1 316.3,328.0 316.8,328.4 317.0,330.0 317.0,330.7 317.6,332.1 317.6,332.1 317.9,333.0 318.2,333.9 318.2,334.4 318.6,334.9 318.6,335.9 319.0,337.0 319.7,336.4 321.0,338.0 321.8,338.1 322.4,338.6 323.2,337.4 324.4,337.5 325.0,337.0 326.3,335.7 326.2,335.6 327.0,336.1 328.2,336.8 329.0,336.0 330.0,335.6 330.2,334.7 330.4,333.6 331.2,332.7 332.1,332.5 332.5,332.5 333.1,331.5 333.4,330.6 333.5,330.0 334.0,329.9 334.2,327.8 334.5,328.1 334.9,327.4 335.5,326.0 335.6,326.4 336.3,325.7 336.9,323.5 336.9,322.9 338.0,322.5 338.1,321.6 338.2,320.8 338.3,319.9 338.4,319.1 338.5,318.2 338.6,317.4 338.7,316.6 338.8,315.7 338.9,314.9 339.0,314.0 339.6,315.2 339.6,315.4 340.0,315.9 340.7,316.4 340.9,318.0 341.4,318.7 342.0,319.0 342.1,318.7 342.8,321.3 343.3,320.3 344.5,321.6 345.0,322.5 345.6,323.0 345.5,324.4 346.1,325.0 346.3,326.3 347.0,326.2 347.2,326.9 347.9,327.7 348.0,329.0 348.6,327.9 349.5,328.5 350.0,328.1 351.0,327.5 351.7,327.5 352.6,328.6 352.6,330.8 352.8,329.1 353.2,330.1 353.5,332.8 354.5,332.5 355.4,331.1 355.9,330.9 356.3,330.0 357.5,330.0 357.5,330.5 358.6,328.9 359.7,328.4 359.9,328.2 360.5,327.0 360.9,327.6 361.4,328.0 361.6,328.9 361.9,329.7 362.3,330.7 362.7,331.5 363.0,332.5 363.0,333.5 363.5,334.4 363.8,334.4 364.0,335.3 364.5,336.8 364.5,337.5 365.1,336.5 365.0,335.6 365.8,334.6 367.0,334.1 367.0,334.0 367.4,332.9 368.0,332.0 368.5,331.3 368.5,330.9 369.0,329.7 369.5,329.5 370.7,328.6 371.0,328.8 371.6,329.9 373.0,330.5 374.1,328.9 374.9,329.4 376.0,329.5 377.1,330.0 377.1,328.5 377.0,327.4 378.5,327.5 378.8,326.5 379.0,325.0 380.0,325.9 379.6,326.8 380.2,328.0 380.7,328.6 381.7,328.7 382.0,329.0 382.3,328.3 383.2,329.1 384.0,327.8 385.0,326.4 385.0,326.0 385.4,325.3 385.5,324.2 385.7,323.1 386.4,322.5 386.6,321.9 386.6,320.7 386.9,320.1 387.1,320.2 387.5,319.0 388.1,317.6 388.3,317.9 388.7,317.0 388.9,315.7 388.8,314.5 389.6,314.0 389.7,313.6 390.0,312.5 390.1,311.7 390.3,310.8 390.4,310.0 390.5,309.2 390.7,308.3 390.8,307.5 390.9,306.7 391.1,305.8 391.2,305.0 391.3,304.2 391.5,303.3 391.6,302.5 391.7,301.7 391.9,300.8 392.0,300.0 392.1,299.2 392.2,298.4 392.3,297.6 392.4,296.8 392.5,296.0 392.5,295.2 392.6,294.4 392.7,293.6 392.8,292.8 392.9,292.0 393.0,291.2 393.1,290.5 393.2,289.7 393.3,288.9 393.4,288.1 393.5,287.3 393.5,286.5 393.6,285.7 393.7,284.9 393.8,284.1 393.9,283.3 394.0,282.5 394.5,281.7 394.3,280.1 394.4,280.0 394.9,280.0 395.1,278.5 395.5,277.5 395.6,276.7 395.6,275.9 395.7,275.0 395.8,274.2 395.9,273.4 395.9,272.6 396.0,271.7 396.1,270.9 396.2,270.1 396.2,269.2 396.3,268.4 396.4,267.6 396.5,266.8 396.6,265.9 396.6,265.1 396.7,264.3 396.8,263.5 396.9,262.6 396.9,261.8 397.0,261.0 397.2,261.9 397.3,262.8 397.5,263.6 397.6,264.5 397.8,265.4 398.0,266.2 398.1,267.1 398.3,268.0 398.4,267.1 398.5,266.3 398.7,265.4 398.8,264.6 398.9,263.8 399.0,262.9 399.1,262.1 399.3,261.2 399.4,260.4 399.5,259.5 399.6,260.4 399.7,261.2 399.7,262.1 399.8,262.9 399.9,263.8 400.0,264.6 400.1,265.4 400.1,266.3 400.2,267.1 400.3,268.0 400.4,268.8 400.6,269.6 400.7,270.4 400.9,271.2 401.0,272.0 401.1,271.2 401.1,270.3 401.2,269.5 401.3,268.7 401.3,267.8 401.4,267.0 401.5,266.2 401.5,265.3 401.6,264.5 401.7,263.7 401.7,262.8 401.8,262.0 402.5,261.0 402.6,261.8 402.6,262.7 402.7,263.5 402.7,264.4 402.8,265.2 402.9,266.1 402.9,266.9 403.0,267.8 403.1,268.6 403.1,269.5 403.2,270.3 403.2,271.2 403.3,272.0 403.5,273.0 403.8,274.0 404.0,275.0 404.1,275.8 404.2,276.6 404.3,277.5 404.4,278.3 404.4,279.1 404.5,279.9 404.6,280.8 404.7,281.6 404.8,282.4 404.9,283.2 405.0,284.1 405.1,284.9 405.1,285.7 405.2,286.5 405.3,287.4 405.4,288.2 405.5,289.0 405.7,289.8 405.8,290.7 406.0,291.5 406.1,292.4 406.3,293.2 406.4,294.1 406.6,294.9 406.7,295.8 406.9,296.6 407.0,297.5 407.2,298.3 407.3,299.2 407.5,300.0 407.5,300.5 408.1,301.1 408.3,302.0 408.1,304.0 408.4,303.3 408.9,305.0 409.1,306.6 409.1,306.8 409.5,307.5 409.6,306.7 409.8,305.9 409.9,305.1 410.0,304.2 410.1,303.4 410.2,302.6 410.4,301.8 410.5,301.0 410.6,301.8 410.8,302.6 410.9,303.5 411.1,304.3 411.2,305.1 411.4,305.9 411.5,306.8 411.6,307.6 411.8,308.4 411.9,309.2 412.1,310.0 412.2,310.9 412.4,311.7 412.5,312.5 412.6,311.7 412.7,310.9 412.8,310.0 412.9,309.2 413.0,308.4 413.1,307.6 413.2,306.7 413.3,305.9 413.4,305.1 413.5,304.2 413.6,303.4 413.7,302.6 413.8,301.8 413.9,300.9 414.0,300.1 414.1,299.3 414.2,298.5 414.3,297.6 414.4,296.8 414.5,296.0 415.1,294.4 415.1,294.3 415.8,293.4 416.6,292.9 417.0,292.0 417.1,292.8 417.2,293.6 417.4,294.4 417.5,295.2 417.6,296.0 417.7,296.8 417.8,297.6 417.9,298.4 418.1,299.2 418.2,300.0 418.3,300.8 418.4,301.6 418.5,302.4 418.6,303.2 418.8,304.0 418.8,303.2 418.9,302.3 419.0,301.5 419.1,300.7 419.1,299.9 419.2,299.0 419.3,298.2 419.4,297.4 419.4,296.6 419.5,295.7 419.6,294.9 419.7,294.1 419.7,293.3 419.8,292.4 419.9,291.6 420.0,290.8 420.0,290.0 420.1,289.1 420.2,288.3 420.3,287.5 420.3,286.7 420.4,285.8 420.5,285.0 421.2,284.5 421.2,283.0 422.0,282.5 422.5,282.4 422.8,284.3 422.4,285.8 422.7,286.0 423.1,285.9 423.2,286.7 423.7,289.0 423.8,289.0 423.9,289.8 424.0,290.7 424.2,291.5 424.3,292.3 424.5,293.2 424.6,294.0 424.8,294.8 424.9,295.7 425.1,296.5 425.2,297.3 425.4,298.2 425.5,299.0 426.3,300.4 426.5,301.0 426.6,301.6 427.1,302.0 427.5,303.0 428.0,304.0 428.2,304.8 428.3,305.7 428.5,306.5 428.7,307.3 428.8,308.2 429.0,309.0 429.2,309.8 429.3,310.7 429.5,311.5 429.7,312.3 429.8,313.2 430.0,314.0 431.3,313.7 432.1,313.9 432.5,312.5 433.2,314.5 433.3,313.1 434.2,315.9 435.0,315.5 435.1,314.5 435.7,314.7 436.0,314.0 436.1,312.3 436.4,311.2 437.0,311.0 437.5,311.6 437.4,312.6 437.3,314.2 438.0,314.9 437.8,315.2 438.5,316.2 438.5,317.1 438.8,317.5 439.3,318.6 439.5,318.7 439.7,320.2 439.7,321.0 439.9,321.9 440.4,321.7 440.6,323.6 441.0,324.0 441.4,324.7 442.0,324.2 442.6,326.0 443.5,326.1 443.8,327.5 443.7,328.7 444.3,328.5 444.2,330.3 444.5,330.5 444.9,332.0 445.2,331.8 445.2,333.8 445.5,334.0 446.3,333.6 447.0,333.4 446.9,333.1 447.7,331.5 448.8,331.0 449.2,330.5 449.9,332.3 451.0,333.0 452.0,333.0 452.5,334.4 453.5,334.3 454.3,333.6 455.0,334.5 456.2,334.5 456.2,336.5 457.2,336.6 458.0,335.9 458.8,337.0 459.4,336.4 460.2,336.2 460.5,335.4 462.0,335.8 462.5,335.5 462.8,335.5 463.4,335.2 464.8,333.8 464.8,334.1 465.5,332.5 466.5,331.8 467.2,334.1 468.2,334.3 468.8,334.0 469.0,334.3 470.1,332.4 470.7,331.9 470.6,331.7 471.8,331.5 472.3,331.3 472.5,329.5 473.7,331.0 474.2,329.7 474.9,330.3 476.0,331.0 476.7,330.6 477.1,330.5 478.5,329.7 478.9,331.0 480.0,329.5 481.1,330.6 481.8,329.0 482.2,331.0 483.5,329.9 484.0,331.0 484.8,332.0 485.8,330.8 486.4,332.4 487.3,331.5 487.5,333.0 488.5,333.5 489.3,331.1 489.5,332.4 490.4,330.5 491.0,330.0 491.4,329.3 491.5,328.2 493.0,328.8 492.6,327.6 494.0,325.6 493.8,325.9 494.5,325.0 495.2,325.1 496.8,324.0 497.5,324.0 498.9,325.5 499.1,324.8 500.5,324.5 500.7,324.0 501.1,322.8 501.9,322.5 502.1,321.0 502.8,320.8 503.0,320.0 503.2,319.2 503.4,318.4 503.5,317.5 503.7,316.7 503.9,315.9 504.1,315.1 504.3,314.3 504.5,313.5 504.6,312.6 504.8,311.8 505.0,311.0 506.7,310.4 507.0,310.0 507.5,310.8 507.9,312.2 507.9,312.4 508.2,313.3 508.5,314.3 509.0,314.5 510.6,314.0 511.0,315.5 512.0,313.5 511.9,313.0 513.2,314.7 514.0,313.0 514.0,314.5 514.5,314.3 515.0,316.0 515.1,316.4 515.7,317.9 515.5,318.3 516.0,319.0 517.3,319.6 517.0,319.3 518.5,318.7 519.0,317.0 519.4,318.4 520.0,318.0 520.3,318.5 520.9,320.0 521.0,320.7 521.8,320.9 522.0,322.0 522.7,320.8 523.9,319.9 524.9,320.6 525.0,319.5 526.3,318.2 526.1,317.5 527.2,316.4 527.5,317.0 527.7,316.1 527.9,315.2 528.1,314.4 528.2,313.5 528.4,312.6 528.6,311.8 528.8,310.9 529.0,310.0 529.2,309.1 529.4,308.2 529.6,307.4 529.8,306.5 529.9,305.6 530.1,304.8 530.3,303.9 530.5,303.0 531.1,301.9 531.8,301.0"/>
<polyline fill="none" stroke="#f0ab95" stroke-opacity="0.47" stroke-width="2.7" stroke-linejoin="round" stroke-linecap="round" points="39.5,324.0 39.6,323.2 39.6,322.3 39.7,321.5 39.7,320.7 39.8,319.9 39.8,319.0 39.9,318.2 40.0,317.4 40.0,316.6 40.1,315.7 40.1,314.9 40.2,314.1 40.2,313.3 40.3,312.4 40.3,311.6 40.4,310.8 40.5,310.0 40.5,309.1 40.6,308.3 40.6,307.5 40.7,306.7 40.7,305.8 40.8,305.0 41.0,304.2 41.1,303.4 41.3,302.6 41.4,301.8 41.6,301.0 41.8,300.2 41.9,299.4 42.1,298.6 42.2,297.8 42.4,297.0 42.5,298.3 43.6,298.2 43.8,297.2 45.0,299.0 45.2,300.4 45.6,301.0 46.4,302.0 46.5,302.0 47.0,303.0 47.1,302.2 47.3,301.4 47.5,300.6 47.6,299.8 47.8,299.0 47.9,298.2 48.0,297.4 48.2,296.6 48.4,295.8 48.5,295.0 48.5,294.2 48.6,293.4 48.6,292.6 48.7,291.8 48.7,291.0 48.7,290.2 48.8,289.4 48.8,288.6 48.9,287.8 48.9,287.0 48.9,286.2 49.0,285.4 49.0,284.6 49.1,283.8 49.1,283.0 49.1,282.2 49.2,281.4 49.2,280.6 49.3,279.8 49.3,279.0 49.3,278.2 49.4,277.4 49.4,276.6 49.5,275.8 49.5,275.0 49.5,274.2 49.6,273.4 49.6,272.6 49.6,271.7 49.7,270.9 49.7,270.1 49.7,269.3 49.8,268.5 49.8,267.7 49.8,266.9 49.9,266.0 49.9,265.2 50.0,264.4 50.0,263.6 50.0,262.8 50.1,262.0 50.1,261.2 50.1,260.3 50.2,259.5 50.2,258.7 50.2,257.9 50.3,257.1 50.3,256.3 50.3,255.5 50.4,254.7 50.4,253.8 50.4,253.0 50.5,252.2 50.5,251.4 50.5,250.6 50.6,249.8 50.6,249.0 50.7,248.1 50.7,247.3 50.7,246.5 50.8,245.7 50.8,244.9 50.8,244.1 50.9,243.3 50.9,242.4 50.9,241.6 51.0,240.8 51.0,240.0 51.1,239.2 51.2,238.4 51.2,237.6 51.3,236.8 51.4,236.0 51.5,235.2 51.6,234.4 51.6,233.6 51.7,232.8 51.8,232.0 51.9,231.2 52.0,230.4 52.0,229.6 52.1,228.8 52.2,228.0 52.3,227.2 52.4,226.4 52.4,225.6 52.5,224.8 52.6,224.0 52.7,223.2 52.8,222.4 52.8,221.6 52.9,220.8 53.0,220.0 53.1,220.8 53.2,221.6 53.4,222.5 53.5,223.3 53.6,224.1 53.7,224.9 53.8,225.8 53.9,226.6 54.1,227.4 54.2,228.2 54.3,229.1 54.4,229.9 54.5,230.7 54.6,231.5 54.8,232.4 54.9,233.2 55.0,234.0 55.9,234.8 55.5,236.1 56.4,236.2 57.2,237.0 57.5,238.5 58.0,238.0 58.1,238.6 58.6,239.2 58.5,240.9 58.6,241.7 59.1,241.9 59.1,243.2 59.6,243.1 59.6,244.5 59.8,245.0 60.0,246.0 60.1,246.8 60.3,247.6 60.4,248.4 60.5,249.2 60.7,250.0 60.8,250.8 60.9,251.6 61.1,252.4 61.2,253.2 61.3,254.0 61.5,254.8 61.6,255.6 61.7,256.4 61.9,257.2 62.0,258.0 62.0,258.6 62.3,259.0 62.8,260.7 63.2,260.7 63.2,261.7 63.6,262.8 64.0,263.4 63.8,264.7 64.1,265.4 64.5,266.0 64.7,266.8 64.8,267.6 65.0,268.4 65.2,269.2 65.3,270.0 65.5,270.8 65.7,271.6 65.8,272.4 66.0,273.2 66.2,274.0 66.3,274.8 66.5,275.6 66.7,276.4 66.8,277.2 67.0,278.0 67.5,277.0 69.5,278.5 70.0,278.0 70.1,277.2 70.2,276.4 70.3,275.6 70.4,274.8 70.5,274.0 70.6,273.2 70.7,272.4 70.8,271.6 70.9,270.8 71.0,270.0 71.1,269.2 71.2,268.4 71.3,267.6 71.4,266.8 71.5,266.0 71.6,265.2 71.7,264.4 71.8,263.6 71.9,262.8 72.0,262.0 72.1,261.2 72.3,260.4 72.4,259.5 72.5,258.7 72.7,257.9 72.8,257.1 73.0,256.3 73.1,255.5 73.2,254.6 73.4,253.8 73.5,253.0 73.6,254.2 74.3,255.0 75.3,254.3 75.5,256.0 75.7,256.8 75.8,257.6 76.0,258.4 76.1,259.2 76.2,260.0 76.4,260.8 76.5,261.6 76.7,262.4 76.8,263.2 77.0,264.0 78.0,262.0 77.5,263.4 78.4,260.7 79.1,262.7 79.5,260.2 80.0,260.0 80.5,259.1 82.4,260.6 83.0,261.0 84.2,259.3 84.2,258.7 85.1,258.3 86.0,259.0 86.3,258.1 87.0,256.5 87.3,258.5 88.0,256.6 89.0,256.0 89.2,255.2 89.3,254.0 89.6,253.5 90.4,252.7 90.6,251.3 90.4,250.9 91.0,250.0 91.2,249.3 91.4,248.6 91.8,248.3 91.8,246.9 92.3,245.8 92.2,245.1 92.4,245.0 93.0,243.6 92.9,242.5 93.2,241.7 93.5,241.6 93.6,240.2 94.0,240.0 95.2,238.2 96.0,239.0 96.2,239.2 96.9,239.4 97.4,240.7 98.0,242.0 98.8,241.4 99.4,240.9 99.8,240.0 100.0,239.0 100.4,240.6 101.2,241.6 101.8,241.6 101.7,242.5 102.4,241.3 103.0,243.0 103.2,241.8 103.7,241.8 104.2,240.2 104.9,240.2 104.9,238.8 105.4,238.5 106.0,238.0 107.4,238.9 108.1,236.6 109.0,237.0 109.2,236.0 109.5,234.7 109.9,235.0 110.2,233.2 110.4,232.4 110.8,232.0 111.2,231.7 111.0,230.2 111.7,229.6 111.7,228.7 112.0,228.0 112.1,227.2 112.3,226.4 112.4,225.6 112.5,224.8 112.7,224.0 112.8,223.2 112.9,222.4 113.1,221.6 113.2,220.8 113.3,220.0 113.5,219.2 113.6,218.4 113.7,217.6 113.9,216.8 114.0,216.0 114.2,215.2 114.3,214.3 114.5,213.5 114.7,212.7 114.8,211.8 115.0,211.0 115.2,210.2 115.3,209.3 115.5,208.5 115.7,207.7 115.8,206.8 116.0,206.0 116.1,205.2 116.2,204.4 116.3,203.6 116.4,202.8 116.5,202.0 116.5,201.2 116.6,200.4 116.7,199.6 116.8,198.8 116.9,198.0 117.0,197.2 117.1,196.4 117.2,195.6 117.3,194.8 117.3,194.0 117.4,193.2 117.5,192.4 117.6,191.6 117.7,190.8 117.8,190.0 117.8,189.2 117.9,188.3 118.0,187.5 118.0,186.7 118.0,185.8 118.1,185.0 118.2,184.2 118.2,183.3 118.2,182.5 118.3,181.7 118.3,180.8 118.4,180.0 118.5,179.2 118.5,178.3 118.5,177.5 118.6,176.7 118.7,175.8 118.7,175.0 118.7,175.8 118.7,176.6 118.7,177.4 118.8,178.2 118.8,179.0 118.8,179.8 118.8,180.6 118.8,181.4 118.8,182.2 118.8,183.0 118.9,183.8 118.9,184.6 118.9,185.4 118.9,186.2 118.9,187.0 118.9,187.8 118.9,188.6 119.0,189.4 119.0,190.2 119.0,191.0 119.0,191.8 119.0,192.6 119.0,193.4 119.0,194.2 119.1,195.0 119.1,195.8 119.1,196.6 119.1,197.4 119.1,198.2 119.1,199.0 119.1,199.8 119.2,200.6 119.2,201.4 119.2,202.2 119.2,203.0 119.2,202.2 119.3,201.4 119.3,200.6 119.3,199.8 119.4,199.0 119.4,198.1 119.4,197.3 119.5,196.5 119.5,195.7 119.5,194.9 119.6,194.1 119.6,193.3 119.6,192.5 119.7,191.7 119.7,190.9 119.7,190.0 119.8,189.2 119.8,188.4 119.8,187.6 119.9,186.8 119.9,186.0 120.6,186.4 121.2,188.0 121.5,189.4 122.1,189.5 122.4,189.9 123.3,191.3 123.5,191.1 124.0,192.5 124.2,193.3 124.4,194.2 124.6,195.1 124.8,195.9 125.0,196.8 125.2,197.6 125.4,198.4 125.6,199.3 125.8,200.2 126.0,201.0 126.2,200.6 126.7,200.2 127.4,198.4 127.5,197.7 127.9,197.0 128.3,196.0 128.4,195.7 129.0,195.0 129.1,194.1 129.9,194.0 129.9,192.1 130.6,192.6 130.8,190.7 131.0,191.1 131.7,189.1 131.6,188.9 132.0,188.6 132.5,187.5 132.9,189.0 133.1,189.0 134.5,190.2 134.0,189.2 135.0,191.0 135.1,190.2 135.2,189.3 135.2,188.5 135.3,187.7 135.4,186.8 135.5,186.0 135.6,185.2 135.7,184.3 135.8,183.5 135.8,182.7 135.9,181.8 136.0,181.0 136.1,180.2 136.2,179.3 136.2,178.5 136.3,177.7 136.4,176.8 136.5,176.0 136.6,175.2 136.7,174.4 136.8,173.6 136.9,172.8 137.0,172.0 137.1,171.2 137.2,170.4 137.3,169.6 137.4,168.8 137.6,168.0 137.7,167.2 137.8,166.4 137.9,165.6 138.0,164.8 138.1,164.0 138.2,163.2 138.3,162.4 138.4,161.6 138.5,160.8 138.6,160.0 138.7,159.2 138.8,158.4 138.9,157.6 139.1,156.8 139.2,156.0 139.3,155.2 139.4,154.4 139.5,153.6 139.6,152.8 139.7,152.0 139.8,151.2 140.0,150.4 140.1,149.6 140.2,148.8 140.3,148.0 140.4,147.2 140.5,146.4 140.6,145.5 140.7,144.7 140.8,143.9 140.8,143.1 140.9,142.3 141.0,141.5 141.1,140.6 141.2,139.8 141.3,139.0 141.6,140.0 142.1,140.1 142.1,141.4 142.8,142.1 143.0,143.0 143.8,144.7 144.1,143.3 145.2,144.6 146.0,145.0 146.7,145.8 146.9,146.3 147.4,147.6 147.6,147.3 148.0,148.4 148.8,149.0 149.0,150.0 149.5,150.9 150.1,150.9 150.4,151.9 150.5,153.0 151.3,153.7 151.3,154.9 152.0,155.0 152.2,156.0 152.6,156.3 152.6,157.3 152.7,157.7 153.2,159.0 153.5,159.4 153.4,160.4 154.0,162.1 154.0,162.5 154.6,161.8 154.4,160.9 154.8,159.6 155.4,159.2 155.4,158.8 156.0,158.0 156.6,157.8 156.6,155.9 157.2,155.1 157.4,154.3 157.9,154.2 158.0,153.0 158.4,153.2 158.6,151.4 159.0,151.0 160.0,152.2 160.9,151.4 162.0,151.0 163.1,151.1 163.5,152.3 163.4,151.6 164.9,153.3 165.0,154.0 165.4,155.8 166.1,155.3 166.3,156.7 166.7,156.6 167.8,157.6 168.0,158.0 168.1,158.4 168.8,159.9 168.8,161.0 169.1,160.6 169.4,161.8 170.1,163.2 170.1,163.7 170.4,164.3 171.0,165.0 171.3,163.8 171.7,164.1 172.5,163.5 173.5,162.0 174.2,162.4 175.3,162.3 176.0,162.5 176.6,163.9 176.6,163.9 177.3,164.4 177.5,165.6 178.1,166.0 178.3,167.7 178.8,167.5 179.0,169.0 179.5,169.6 179.6,170.9 179.6,172.0 179.9,172.1 180.2,173.2 180.4,174.2 180.6,174.4 180.7,175.0 181.0,176.9 181.3,176.7 181.3,178.1 181.5,179.0 181.5,177.8 182.2,177.9 182.0,177.1 182.5,175.7 182.7,174.7 182.7,173.6 183.1,173.7 183.4,172.8 183.5,172.0 184.2,170.8 185.3,170.4 185.9,170.8 186.5,169.5 186.9,170.7 187.0,170.2 188.4,170.6 188.0,170.9 189.0,173.0 190.0,172.4 190.5,173.8 191.6,174.4 192.0,175.0 192.8,173.3 193.9,174.9 194.5,174.7 195.3,174.0 196.0,173.0 196.9,172.6 196.5,172.6 198.0,169.9 197.5,169.6 198.1,168.9 199.0,168.5 199.1,168.9 199.4,170.0 200.0,171.2 200.4,171.2 201.0,173.0 201.2,172.8 201.5,174.0 202.4,174.0 203.4,173.0 204.5,174.5 205.1,174.6 206.0,174.3 206.6,173.4 207.0,172.0 207.4,171.8 207.6,170.3 207.7,169.8 208.0,169.1 208.0,167.6 208.1,166.9 208.5,166.8 208.4,165.6 209.0,164.6 209.0,164.0 209.0,163.7 209.8,161.8 210.3,160.7 211.0,161.5 211.6,161.8 213.0,162.5 213.2,161.1 213.8,161.7 214.4,160.2 214.8,159.1 215.0,159.0 215.2,158.3 215.7,160.7 217.1,161.0 217.7,161.7 218.0,162.5 219.3,162.5 219.6,161.0 220.3,161.4 221.6,160.5 222.0,161.0 222.6,161.5 223.1,160.3 224.1,160.3 225.3,158.3 226.0,159.0 227.0,158.2 227.3,159.0 228.6,157.0 229.0,157.0 229.3,155.7 229.5,154.8 229.8,155.1 230.0,153.1 230.1,152.9 230.3,151.6 230.5,151.2 230.6,150.7 230.9,149.3 231.0,148.5 231.5,148.0 232.6,148.2 232.3,149.1 233.9,149.1 234.0,151.0 234.3,151.4 234.9,152.5 235.0,153.9 235.5,154.5 236.0,155.0 236.7,155.4 237.0,153.0 238.0,152.5 239.0,152.5 240.4,152.3 240.8,152.2 242.0,152.0 243.0,151.6 243.1,151.2 243.9,149.9 244.3,148.6 245.0,149.0 245.7,149.6 246.3,147.6 247.4,147.8 248.0,147.0 248.2,146.1 248.8,144.7 248.8,144.9 249.6,143.1 249.4,143.0 250.0,142.0 250.3,141.5 250.6,140.5 251.1,139.6 251.8,139.2 252.3,138.9 252.6,138.2 253.0,137.0 253.4,136.4 254.3,136.3 254.8,136.6 256.0,135.0 256.5,136.4 257.7,137.4 257.7,137.8 259.0,136.4 259.0,138.0 259.5,137.6 259.7,136.2 259.9,135.6 260.7,134.9 260.7,134.4 261.2,133.7 261.6,132.5 262.0,132.0 262.2,131.2 262.3,130.3 262.5,129.5 262.7,128.7 262.8,127.8 263.0,127.0 263.2,126.2 263.3,125.3 263.5,124.5 263.7,123.7 263.8,122.8 264.0,122.0 264.2,121.1 264.4,119.8 264.8,120.2 265.2,118.3 265.4,117.3 266.0,117.0 267.1,118.4 267.5,119.4 267.8,118.6 268.0,120.0 268.1,120.5 268.4,121.2 269.1,122.5 269.1,123.1 269.9,124.7 270.0,125.0 270.1,124.2 270.3,123.4 270.4,122.5 270.5,121.7 270.7,120.9 270.8,120.1 271.0,119.3 271.1,118.5 271.2,117.6 271.4,116.8 271.5,116.0 271.7,115.2 271.9,114.4 272.0,113.5 272.2,112.7 272.4,111.9 272.6,111.1 272.8,110.3 273.0,109.5 273.1,108.6 273.3,107.8 273.5,107.0 273.6,108.0 274.2,109.0 274.3,110.1 274.7,110.7 274.7,110.8 275.2,112.2 275.5,113.0 275.6,112.5 276.1,111.3 276.5,111.0 276.7,109.8 277.2,109.1 277.5,108.0 277.7,107.2 277.9,106.4 278.0,105.5 278.2,104.7 278.4,103.9 278.6,103.1 278.8,102.3 279.0,101.5 279.1,100.6 279.3,99.8 279.5,99.0 279.8,98.5 280.4,96.7 280.5,96.3 281.3,95.7 281.5,95.0 281.6,94.2 281.7,93.3 281.8,92.5 282.0,91.6 282.1,90.8 282.2,89.9 282.3,89.1 282.4,88.2 282.5,87.4 282.7,86.5 282.8,85.7 282.9,84.8 283.0,84.0 283.1,83.2 283.2,82.4 283.4,81.6 283.5,80.8 283.6,80.0 283.8,79.2 283.9,78.5 284.0,77.7 284.1,76.9 284.2,76.1 284.4,75.3 284.5,74.5 285.0,75.8 285.0,76.0 285.6,77.0 286.1,77.9 286.4,77.6 286.5,79.0 286.7,79.9 286.9,80.8 287.1,81.6 287.2,82.5 287.4,83.4 287.6,84.2 287.8,85.1 288.0,86.0 288.1,86.8 288.2,87.7 288.4,88.5 288.5,89.3 288.6,90.2 288.8,91.0 288.9,91.8 289.0,92.7 289.1,93.5 289.2,94.3 289.4,95.2 289.5,96.0 289.6,95.2 289.8,94.4 289.9,93.5 290.0,92.7 290.2,91.9 290.3,91.1 290.5,90.3 290.6,89.5 290.7,88.6 290.9,87.8 291.0,87.0 292.5,86.2 293.0,88.0 293.1,88.8 293.3,89.6 293.4,90.5 293.5,91.3 293.7,92.1 293.8,92.9 294.0,93.7 294.1,94.5 294.2,95.4 294.4,96.2 294.5,97.0 294.8,95.9 295.4,95.3 295.4,94.9 295.7,93.6 295.9,92.5 296.5,92.0 297.6,91.7 297.5,91.2 298.0,90.0 298.4,90.9 298.6,91.2 298.7,92.0 299.3,92.6 299.8,93.9 300.0,95.0 300.3,95.5 300.9,96.0 301.5,97.1 301.5,97.3 302.4,98.7 302.5,99.6 303.0,100.0 303.1,99.7 304.0,98.6 303.9,97.5 304.8,96.9 305.0,96.0 305.7,95.8 307.0,97.0 307.5,97.4 308.6,97.5 310.0,98.0 311.4,99.1 312.0,98.8 313.0,98.0 313.3,99.8 314.9,99.0 315.7,98.9 316.0,100.0 316.1,100.8 316.3,101.6 316.4,102.4 316.6,103.2 316.8,104.0 316.9,104.8 317.1,105.6 317.2,106.4 317.4,107.2 317.5,108.0 317.7,108.6 318.4,109.6 318.6,110.9 318.5,111.5 318.8,111.3 319.5,112.9 319.8,113.2 320.0,114.0 320.8,113.2 320.9,112.0 321.4,110.9 322.9,112.9 323.0,111.0 323.5,111.4 324.1,113.1 325.0,113.0 325.6,111.5 326.6,113.0 326.3,111.1 327.1,111.0 328.0,110.0 328.4,108.8 329.0,109.1 329.8,108.2 330.6,107.5 331.0,107.0 331.5,106.1 331.7,105.9 331.9,104.6 332.3,103.9 332.3,102.6 332.5,101.2 333.0,101.0 333.4,99.9 333.4,98.6 333.6,98.7 334.1,97.5 334.5,97.3 334.8,95.5 335.0,95.0 335.7,93.8 335.8,93.6 336.1,93.1 336.7,92.1 337.0,91.0 337.0,90.6 337.3,89.5 337.8,88.2 337.7,87.3 338.3,86.9 338.3,85.9 338.5,85.0 339.5,84.7 339.7,84.6 341.0,86.0 341.8,86.9 342.9,87.7 343.0,88.0 344.1,89.9 344.5,88.8 345.2,89.1 346.0,90.0 346.9,90.8 346.8,92.5 347.8,92.5 348.5,92.6 349.0,93.0 350.1,91.6 350.6,93.0 352.0,92.0 352.3,92.2 353.0,93.8 353.4,94.0 353.5,95.2 354.0,95.8 354.7,96.0 355.0,97.0 355.0,96.7 356.5,96.0 357.3,94.4 357.7,94.4 358.0,94.0 358.5,93.0 358.7,92.6 359.3,92.4 359.8,91.1 360.2,90.6 360.5,89.4 361.0,89.0 361.5,89.6 361.5,90.1 362.1,91.7 362.7,92.2 363.0,93.0 363.5,93.6 363.5,95.1 364.0,95.5 364.4,95.8 364.4,97.8 364.9,97.7 365.0,99.0 365.8,98.3 366.5,97.0 366.7,97.1 367.0,96.0 367.6,94.9 367.5,93.8 368.0,92.8 368.3,92.1 368.3,92.3 368.7,91.2 369.0,90.0 369.8,89.3 370.9,91.4 372.0,90.0 372.7,90.8 374.4,89.8 375.0,89.0 375.2,89.0 376.5,87.9 376.2,87.3 377.5,86.6 377.1,84.8 378.0,85.0 378.9,84.2 378.9,85.6 380.0,86.5 381.0,87.0 381.5,87.5 383.2,87.2 384.0,88.0 384.3,87.3 384.7,86.6 384.9,85.8 385.3,84.3 385.2,84.6 385.9,82.6 386.2,82.7 386.4,82.1 386.5,81.0 386.7,79.7 387.3,79.8 387.4,78.4 387.7,78.6 388.0,76.8 388.6,77.2 388.5,75.3 389.0,75.0 389.4,74.1 389.6,73.8 389.8,72.9 390.1,71.6 390.6,71.1 391.1,70.0 391.4,69.4 391.5,69.0 391.7,68.2 391.8,67.3 392.0,66.5 392.2,65.7 392.3,64.8 392.5,64.0 392.7,63.2 392.8,62.3 393.0,61.5 393.2,60.7 393.3,59.8 393.5,59.0 394.2,57.6 395.1,56.8 395.8,58.0 396.0,56.0 396.5,54.8 396.8,54.2 397.1,53.4 397.2,52.2 397.6,51.5 397.9,51.1 398.0,50.0 398.7,48.2 399.2,48.8 400.1,48.7 401.0,48.0 401.4,48.2 403.4,49.9 404.0,49.0 404.4,50.1 404.6,51.4 405.0,51.5 405.1,53.0 405.5,53.4 405.6,54.4 406.0,55.0 406.3,56.5 406.9,57.4 407.1,56.9 406.9,58.2 407.6,59.4 407.6,59.6 408.0,61.0 408.5,60.5 409.1,62.7 409.9,61.6 411.0,63.0 411.4,61.6 411.9,61.5 412.2,60.8 412.5,59.3 412.6,58.7 413.0,58.0 413.4,57.7 413.8,56.8 414.3,54.9 414.5,54.8 415.2,53.5 415.5,53.0 415.8,53.4 416.7,54.3 417.9,55.6 418.0,56.0 418.1,55.0 418.4,53.9 418.5,53.0 418.9,53.3 419.2,52.1 419.1,51.3 419.4,49.9 419.6,49.6 419.6,48.7 420.0,48.0 421.0,47.9 421.1,46.3 422.0,46.6 422.5,46.0 422.8,46.8 423.3,47.8 424.0,48.3 424.2,49.4 424.7,49.8 425.0,51.0 425.2,52.8 425.6,52.8 426.2,53.0 426.9,52.9 427.1,55.6 428.0,55.0 428.2,55.3 429.1,56.4 429.3,57.8 430.3,57.8 430.5,59.0 431.4,58.2 432.3,58.3 432.8,58.0 433.0,57.0 433.4,56.6 434.8,55.6 434.9,57.8 436.7,56.6 437.0,56.0 437.2,57.1 438.1,58.0 438.3,58.3 438.7,59.8 439.0,60.0 439.4,60.2 439.6,62.2 440.3,63.0 440.4,62.6 441.0,64.0 442.2,64.3 443.0,65.0 443.2,65.4 443.5,67.0 443.7,67.3 443.8,68.1 444.0,68.8 444.2,70.4 444.6,70.1 444.7,71.8 444.7,72.7 445.0,73.0 446.0,71.0 446.1,71.2 446.5,70.9 447.0,70.0 448.4,70.7 449.4,70.0 450.0,71.0 451.1,71.2 451.1,72.8 452.3,71.7 453.0,73.0 454.4,73.0 455.2,74.4 456.0,73.0 456.3,73.8 456.9,74.1 457.3,75.8 457.8,75.5 458.2,76.7 458.5,77.5 459.0,78.0 459.9,78.8 460.9,78.9 462.0,78.0 462.2,76.8 462.5,76.0 463.1,76.4 463.2,74.6 463.8,74.7 463.7,73.2 464.2,72.2 464.5,72.0 464.8,71.2 465.3,70.0 466.5,69.9 467.0,70.0 468.5,71.6 469.2,70.0 470.0,71.0 470.5,69.9 470.9,69.2 471.1,68.9 471.4,68.0 471.6,66.3 472.0,66.0 472.6,66.9 473.0,64.6 474.0,64.7 475.0,64.5 476.2,64.1 476.1,64.1 477.1,66.6 478.0,66.5 478.7,66.5 479.5,65.4 480.1,64.1 481.0,65.0 482.5,65.7 482.5,64.2 484.0,65.0 484.9,65.6 485.5,66.9 485.4,67.7 486.1,66.4 487.0,68.0 488.3,68.5 488.8,67.0 490.0,67.0 490.6,65.9 491.0,66.1 491.3,65.2 492.2,64.5 492.5,63.0 492.8,61.8 493.3,60.9 493.9,60.7 494.3,59.8 494.5,59.0 495.1,59.5 495.3,56.7 496.8,57.0 497.0,56.0 498.3,57.7 499.3,57.0 500.0,57.0 500.9,56.3 500.9,55.0 502.4,54.8 502.5,54.0 502.5,53.4 503.2,52.6 503.2,51.6 503.5,51.0 503.6,50.7 504.0,49.7 504.2,48.9 504.1,47.8 504.5,47.0 504.9,45.5 506.3,44.9 506.5,45.0 507.5,46.4 507.6,44.7 508.0,46.9 509.0,47.0 510.2,46.3 511.1,45.4 512.0,46.0 513.2,46.8 514.3,46.2 515.0,46.0 515.6,45.4 515.7,47.2 516.0,47.1 517.0,49.0 518.5,49.8 519.1,50.2 520.0,50.0 521.4,50.5 521.9,50.0 523.0,50.5 524.3,51.1 524.1,50.1 525.4,48.2 526.0,48.0 526.8,46.6 527.5,46.7 528.0,44.5 528.5,45.0 528.6,44.1 528.8,43.3 528.9,42.4 529.1,41.6 529.2,40.7 529.4,39.9 529.5,39.0 530.0,37.9 531.0,37.6 532.0,38.5"/>
<line x1="81.6" y1="55.6" x2="108.4" y2="55.6" stroke="#292151" stroke-width="2.9" stroke-linecap="round"/>
<line x1="80.3" y1="88" x2="108.8" y2="88" stroke="#efb3ae" stroke-opacity="0.8" stroke-width="1.6"/>
<g>
<text x="9.59" y="17.90" font-size="14.2" textLength="36.14" lengthAdjust="spacingAndGlyphs">Ratio</text>
<text x="480.18" y="18.00" font-size="14.2" textLength="110.38" lengthAdjust="spacingAndGlyphs">USD (Log Scale)</text>
<text x="9.78" y="40.50" font-size="12.5" textLength="15.77" lengthAdjust="spacingAndGlyphs">40</text>
<text x="10.57" y="79.38" font-size="12.5" textLength="15.18" lengthAdjust="spacingAndGlyphs">35</text>
<text x="9.55" y="118.25" font-size="12.5" textLength="16.01" lengthAdjust="spacingAndGlyphs">30</text>
<text x="10.66" y="157.13" font-size="12.5" textLength="15.09" lengthAdjust="spacingAndGlyphs">25</text>
<text x="9.32" y="196.00" font-size="12.5" textLength="16.25" lengthAdjust="spacingAndGlyphs">20</text>
<text x="12.78" y="234.88" font-size="12.5" textLength="12.78" lengthAdjust="spacingAndGlyphs">15</text>
<text x="11.41" y="273.75" font-size="12.5" textLength="14.11" lengthAdjust="spacingAndGlyphs">10</text>
<text x="18.61" y="312.62" font-size="12.5" textLength="7.00" lengthAdjust="spacingAndGlyphs">5</text>
<text x="17.02" y="351.50" font-size="12.5" textLength="8.45" lengthAdjust="spacingAndGlyphs">0</text>
<text x="544.29" y="40.50" font-size="12.5" textLength="52.88" lengthAdjust="spacingAndGlyphs">100,000</text>
<text x="544.31" y="92.33" font-size="12.5" textLength="43.65" lengthAdjust="spacingAndGlyphs">10,000</text>
<text x="544.31" y="144.16" font-size="12.5" textLength="35.64" lengthAdjust="spacingAndGlyphs">1,000</text>
<text x="544.33" y="195.99" font-size="12.5" textLength="23.22" lengthAdjust="spacingAndGlyphs">100</text>
<text x="544.41" y="247.82" font-size="12.5" textLength="14.11" lengthAdjust="spacingAndGlyphs">10</text>
<text x="544.84" y="299.65" font-size="12.5" textLength="4.05" lengthAdjust="spacingAndGlyphs">1</text>
<text x="545.02" y="351.48" font-size="12.5" textLength="8.56" lengthAdjust="spacingAndGlyphs">0</text>
<text x="111.04" y="58.80" font-size="12.5" textLength="110.47" lengthAdjust="spacingAndGlyphs">MCTC Ratio (Left)</text>
<text x="111.02" y="90.80" font-size="12.5" textLength="121.69" lengthAdjust="spacingAndGlyphs">Bitcoin Price (Right)</text>
<text x="33.39" y="369.70" font-size="12.6" textLength="10.21" lengthAdjust="spacingAndGlyphs">11</text>
<text x="67.18" y="369.70" font-size="12.6" textLength="12.78" lengthAdjust="spacingAndGlyphs">12</text>
<text x="102.58" y="369.70" font-size="12.6" textLength="12.78" lengthAdjust="spacingAndGlyphs">13</text>
<text x="137.76" y="369.70" font-size="12.6" textLength="13.13" lengthAdjust="spacingAndGlyphs">14</text>
<text x="173.29" y="369.70" font-size="12.6" textLength="12.56" lengthAdjust="spacingAndGlyphs">15</text>
<text x="208.88" y="369.70" font-size="12.6" textLength="12.78" lengthAdjust="spacingAndGlyphs">16</text>
<text x="245.33" y="369.70" font-size="12.6" textLength="11.90" lengthAdjust="spacingAndGlyphs">17</text>
<text x="279.87" y="369.70" font-size="12.6" textLength="13.00" lengthAdjust="spacingAndGlyphs">18</text>
<text x="315.29" y="369.70" font-size="12.6" textLength="12.67" lengthAdjust="spacingAndGlyphs">19</text>
<text x="349.89" y="369.70" font-size="12.6" textLength="14.43" lengthAdjust="spacingAndGlyphs">20</text>
<text x="387.03" y="369.70" font-size="12.6" textLength="11.07" lengthAdjust="spacingAndGlyphs">21</text>
<text x="421.23" y="369.70" font-size="12.6" textLength="13.57" lengthAdjust="spacingAndGlyphs">22</text>
<text x="456.61" y="369.70" font-size="12.6" textLength="13.89" lengthAdjust="spacingAndGlyphs">23</text>
<text x="492.21" y="369.70" font-size="12.6" textLength="14.11" lengthAdjust="spacingAndGlyphs">24</text>
<text y="391.5" font-size="11.3" style="stroke-width:0.15px"><tspan x="10.11" textLength="43.33" lengthAdjust="spacingAndGlyphs">Source:</tspan> <tspan x="55.60" textLength="26.53" lengthAdjust="spacingAndGlyphs">Coin</tspan> <tspan x="83.54" textLength="42.97" lengthAdjust="spacingAndGlyphs">Metrics.</tspan> <tspan x="129.85" textLength="25.67" lengthAdjust="spacingAndGlyphs">Data</tspan> <tspan x="159.13" textLength="12.65" lengthAdjust="spacingAndGlyphs">as</tspan> <tspan x="175.05" textLength="9.41" lengthAdjust="spacingAndGlyphs">of</tspan> <tspan x="187.83" textLength="57.23" lengthAdjust="spacingAndGlyphs">December</tspan> <tspan x="249.31" textLength="15.31" lengthAdjust="spacingAndGlyphs">12,</tspan> <tspan x="266.96" textLength="28.57" lengthAdjust="spacingAndGlyphs">2024.</tspan> <tspan x="299.11" textLength="22.85" lengthAdjust="spacingAndGlyphs">Past</tspan> <tspan x="325.51" textLength="71.31" lengthAdjust="spacingAndGlyphs">performance</tspan> <tspan x="400.02" textLength="17.44" lengthAdjust="spacingAndGlyphs">not</tspan> <tspan x="420.96" textLength="55.88" lengthAdjust="spacingAndGlyphs">indicative</tspan> <tspan x="478.46" textLength="9.10" lengthAdjust="spacingAndGlyphs">of</tspan> <tspan x="490.50" textLength="32.52" lengthAdjust="spacingAndGlyphs">future</tspan> <tspan x="525.20" textLength="41.26" lengthAdjust="spacingAndGlyphs">results.</tspan></text>
<text y="264.8" font-size="14.2"><tspan x="423.56" textLength="66.88" lengthAdjust="spacingAndGlyphs">Threshold</tspan> <tspan x="495.56" textLength="32.14" lengthAdjust="spacingAndGlyphs">(=10)</tspan></text>
</g>
<g>
<rect x="498.2" y="368" width="6.5" height="20.2" fill="#f6a71b"/>
<rect x="483.8" y="383.8" width="20.9" height="4.4" fill="#f6a71b"/>
<rect x="490.9" y="368" width="5.9" height="5.5" fill="#f6a71b"/>
<rect x="483.8" y="375.8" width="5.8" height="5.6" fill="#f6a71b"/>
<text class="wm" x="511" y="386" font-size="18.5" letter-spacing="1.4" style="paint-order:stroke fill;fill:#d7d7d7;stroke:#fff;stroke-width:1.5px;stroke-opacity:0.9;stroke-linejoin:round">金色财经</text>
<polygon points="573.6,371.2 576.2,371.2 573.6,377.2 571.2,377.2" fill="#f3b44a"/>
</g>
</svg>
</body></html>
